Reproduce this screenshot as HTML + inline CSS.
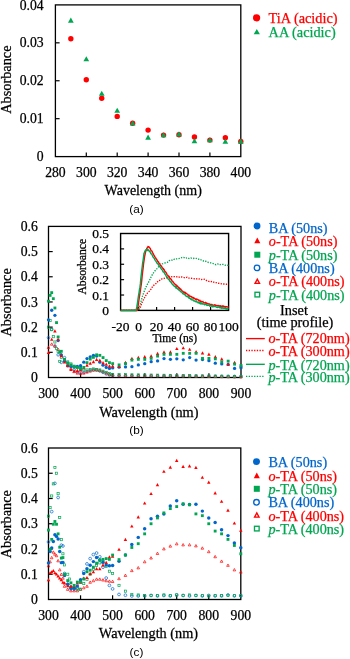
<!DOCTYPE html>
<html><head><meta charset="utf-8"><style>
html,body{margin:0;padding:0;background:#fff;width:350px;height:659px;overflow:hidden;}
svg{display:block;will-change:transform;}

</style></head><body>
<svg width="350" height="659" viewBox="0 0 350 659">
<rect width="350" height="659" fill="#fff"/>
<rect x="55.4" y="4.9" width="185.40" height="151.70" fill="none" stroke="#000" stroke-width="1.3"/>
<line x1="86.30" y1="156.60" x2="86.30" y2="152.40" stroke="#000" stroke-width="1.2"/>
<line x1="117.20" y1="156.60" x2="117.20" y2="152.40" stroke="#000" stroke-width="1.2"/>
<line x1="148.10" y1="156.60" x2="148.10" y2="152.40" stroke="#000" stroke-width="1.2"/>
<line x1="179.00" y1="156.60" x2="179.00" y2="152.40" stroke="#000" stroke-width="1.2"/>
<line x1="209.90" y1="156.60" x2="209.90" y2="152.40" stroke="#000" stroke-width="1.2"/>
<line x1="55.40" y1="118.67" x2="59.60" y2="118.67" stroke="#000" stroke-width="1.2"/>
<line x1="55.40" y1="80.75" x2="59.60" y2="80.75" stroke="#000" stroke-width="1.2"/>
<line x1="55.40" y1="42.83" x2="59.60" y2="42.83" stroke="#000" stroke-width="1.2"/>
<text x="43.60" y="161.20" font-size="13.7" text-anchor="end" fill="#000" stroke="#000" stroke-width="0.25" style="font-family:'Liberation Serif'" >0</text>
<text x="43.60" y="123.27" font-size="13.7" text-anchor="end" fill="#000" stroke="#000" stroke-width="0.25" style="font-family:'Liberation Serif'" >0.01</text>
<text x="43.60" y="85.35" font-size="13.7" text-anchor="end" fill="#000" stroke="#000" stroke-width="0.25" style="font-family:'Liberation Serif'" >0.02</text>
<text x="43.60" y="47.43" font-size="13.7" text-anchor="end" fill="#000" stroke="#000" stroke-width="0.25" style="font-family:'Liberation Serif'" >0.03</text>
<text x="43.60" y="9.50" font-size="13.7" text-anchor="end" fill="#000" stroke="#000" stroke-width="0.25" style="font-family:'Liberation Serif'" >0.04</text>
<text x="55.40" y="176.60" font-size="13.7" text-anchor="middle" fill="#000" stroke="#000" stroke-width="0.25" style="font-family:'Liberation Serif'" >280</text>
<text x="86.30" y="176.60" font-size="13.7" text-anchor="middle" fill="#000" stroke="#000" stroke-width="0.25" style="font-family:'Liberation Serif'" >300</text>
<text x="117.20" y="176.60" font-size="13.7" text-anchor="middle" fill="#000" stroke="#000" stroke-width="0.25" style="font-family:'Liberation Serif'" >320</text>
<text x="148.10" y="176.60" font-size="13.7" text-anchor="middle" fill="#000" stroke="#000" stroke-width="0.25" style="font-family:'Liberation Serif'" >340</text>
<text x="179.00" y="176.60" font-size="13.7" text-anchor="middle" fill="#000" stroke="#000" stroke-width="0.25" style="font-family:'Liberation Serif'" >360</text>
<text x="209.90" y="176.60" font-size="13.7" text-anchor="middle" fill="#000" stroke="#000" stroke-width="0.25" style="font-family:'Liberation Serif'" >380</text>
<text x="240.80" y="176.60" font-size="13.7" text-anchor="middle" fill="#000" stroke="#000" stroke-width="0.25" style="font-family:'Liberation Serif'" >400</text>
<g transform="translate(10.50 79.60) rotate(-90) scale(1 1.08)"><text x="0" y="0" font-size="14.3" text-anchor="middle" fill="#000" stroke="#000" stroke-width="0.25" style="font-family:'Liberation Serif'">Absorbance</text></g>
<g transform="translate(153.20 194.70) rotate(0) scale(1 1.08)"><text x="0" y="0" font-size="14" text-anchor="middle" fill="#000" stroke="#000" stroke-width="0.25" style="font-family:'Liberation Serif'">Wavelength (nm)</text></g>
<text x="136.50" y="212.60" font-size="11.8" text-anchor="middle" fill="#000" style="font-family:'Liberation Sans'" >(a)</text>
<circle cx="70.85" cy="38.70" r="2.70" fill="#ff0000"/>
<circle cx="86.30" cy="79.80" r="2.70" fill="#ff0000"/>
<circle cx="101.75" cy="98.30" r="2.70" fill="#ff0000"/>
<circle cx="117.20" cy="116.40" r="2.70" fill="#ff0000"/>
<circle cx="132.65" cy="123.30" r="2.70" fill="#ff0000"/>
<circle cx="148.10" cy="130.10" r="2.70" fill="#ff0000"/>
<circle cx="163.55" cy="135.10" r="2.70" fill="#ff0000"/>
<circle cx="179.00" cy="134.70" r="2.70" fill="#ff0000"/>
<circle cx="194.45" cy="137.00" r="2.70" fill="#ff0000"/>
<circle cx="209.90" cy="140.10" r="2.70" fill="#ff0000"/>
<circle cx="225.35" cy="137.80" r="2.70" fill="#ff0000"/>
<circle cx="240.80" cy="141.40" r="2.70" fill="#ff0000"/>
<path d="M68.00 22.65L70.85 17.55L73.70 22.65Z" fill="#00a651"/>
<path d="M83.45 61.25L86.30 56.15L89.15 61.25Z" fill="#00a651"/>
<path d="M98.90 95.75L101.75 90.65L104.60 95.75Z" fill="#00a651"/>
<path d="M114.35 112.75L117.20 107.65L120.05 112.75Z" fill="#00a651"/>
<path d="M129.80 125.55L132.65 120.45L135.50 125.55Z" fill="#00a651"/>
<path d="M145.25 139.65L148.10 134.55L150.95 139.65Z" fill="#00a651"/>
<path d="M160.70 137.25L163.55 132.15L166.40 137.25Z" fill="#00a651"/>
<path d="M176.15 136.45L179.00 131.35L181.85 136.45Z" fill="#00a651"/>
<path d="M191.60 143.35L194.45 138.25L197.30 143.35Z" fill="#00a651"/>
<path d="M207.05 142.35L209.90 137.25L212.75 142.35Z" fill="#00a651"/>
<path d="M222.50 143.85L225.35 138.75L228.20 143.85Z" fill="#00a651"/>
<path d="M237.95 143.65L240.80 138.55L243.65 143.65Z" fill="#00a651"/>
<circle cx="256.60" cy="17.80" r="3.60" fill="#ff0000"/>
<text x="268.60" y="23.30" font-size="14.3" text-anchor="start" fill="#ff0000" stroke="#ff0000" stroke-width="0.25" style="font-family:'Liberation Serif'" >TiA (acidic)</text>
<path d="M253.70 34.30L256.80 28.90L259.90 34.30Z" fill="#00a651"/>
<text x="268.60" y="37.20" font-size="14.3" text-anchor="start" fill="#00a651" stroke="#00a651" stroke-width="0.25" style="font-family:'Liberation Serif'" >AA (acidic)</text>
<rect x="48.5" y="226.4" width="192.50" height="151.10" fill="none" stroke="#000" stroke-width="1.3"/>
<line x1="80.58" y1="377.50" x2="80.58" y2="373.30" stroke="#000" stroke-width="1.2"/>
<line x1="112.67" y1="377.50" x2="112.67" y2="373.30" stroke="#000" stroke-width="1.2"/>
<line x1="144.75" y1="377.50" x2="144.75" y2="373.30" stroke="#000" stroke-width="1.2"/>
<line x1="176.83" y1="377.50" x2="176.83" y2="373.30" stroke="#000" stroke-width="1.2"/>
<line x1="208.92" y1="377.50" x2="208.92" y2="373.30" stroke="#000" stroke-width="1.2"/>
<line x1="48.50" y1="352.32" x2="52.70" y2="352.32" stroke="#000" stroke-width="1.2"/>
<line x1="48.50" y1="327.13" x2="52.70" y2="327.13" stroke="#000" stroke-width="1.2"/>
<line x1="48.50" y1="301.95" x2="52.70" y2="301.95" stroke="#000" stroke-width="1.2"/>
<line x1="48.50" y1="276.77" x2="52.70" y2="276.77" stroke="#000" stroke-width="1.2"/>
<line x1="48.50" y1="251.58" x2="52.70" y2="251.58" stroke="#000" stroke-width="1.2"/>
<circle cx="48.50" cy="337.71" r="1.30" fill="none" stroke="#0066cc" stroke-width="0.7"/>
<circle cx="51.71" cy="329.40" r="1.30" fill="none" stroke="#0066cc" stroke-width="0.7"/>
<circle cx="54.92" cy="346.02" r="1.30" fill="none" stroke="#0066cc" stroke-width="0.7"/>
<circle cx="58.12" cy="354.83" r="1.30" fill="none" stroke="#0066cc" stroke-width="0.7"/>
<circle cx="61.33" cy="362.39" r="1.30" fill="none" stroke="#0066cc" stroke-width="0.7"/>
<circle cx="64.54" cy="357.61" r="1.30" fill="none" stroke="#0066cc" stroke-width="0.7"/>
<circle cx="67.75" cy="362.89" r="1.30" fill="none" stroke="#0066cc" stroke-width="0.7"/>
<circle cx="70.96" cy="366.42" r="1.30" fill="none" stroke="#0066cc" stroke-width="0.7"/>
<circle cx="74.17" cy="369.94" r="1.30" fill="none" stroke="#0066cc" stroke-width="0.7"/>
<circle cx="77.38" cy="371.96" r="1.30" fill="none" stroke="#0066cc" stroke-width="0.7"/>
<circle cx="80.58" cy="372.46" r="1.30" fill="none" stroke="#0066cc" stroke-width="0.7"/>
<circle cx="83.79" cy="372.46" r="1.30" fill="none" stroke="#0066cc" stroke-width="0.7"/>
<circle cx="87.00" cy="371.46" r="1.30" fill="none" stroke="#0066cc" stroke-width="0.7"/>
<circle cx="90.21" cy="370.45" r="1.30" fill="none" stroke="#0066cc" stroke-width="0.7"/>
<circle cx="93.42" cy="369.94" r="1.30" fill="none" stroke="#0066cc" stroke-width="0.7"/>
<circle cx="96.62" cy="369.94" r="1.30" fill="none" stroke="#0066cc" stroke-width="0.7"/>
<circle cx="99.83" cy="370.95" r="1.30" fill="none" stroke="#0066cc" stroke-width="0.7"/>
<circle cx="103.04" cy="372.46" r="1.30" fill="none" stroke="#0066cc" stroke-width="0.7"/>
<circle cx="106.25" cy="373.97" r="1.30" fill="none" stroke="#0066cc" stroke-width="0.7"/>
<circle cx="109.46" cy="374.98" r="1.30" fill="none" stroke="#0066cc" stroke-width="0.7"/>
<circle cx="112.67" cy="375.49" r="1.30" fill="none" stroke="#0066cc" stroke-width="0.7"/>
<circle cx="119.08" cy="375.54" r="1.30" fill="none" stroke="#0066cc" stroke-width="0.7"/>
<circle cx="125.50" cy="375.59" r="1.30" fill="none" stroke="#0066cc" stroke-width="0.7"/>
<circle cx="131.92" cy="375.64" r="1.30" fill="none" stroke="#0066cc" stroke-width="0.7"/>
<circle cx="138.33" cy="375.69" r="1.30" fill="none" stroke="#0066cc" stroke-width="0.7"/>
<circle cx="144.75" cy="375.74" r="1.30" fill="none" stroke="#0066cc" stroke-width="0.7"/>
<circle cx="151.17" cy="375.79" r="1.30" fill="none" stroke="#0066cc" stroke-width="0.7"/>
<circle cx="157.58" cy="375.84" r="1.30" fill="none" stroke="#0066cc" stroke-width="0.7"/>
<circle cx="164.00" cy="375.89" r="1.30" fill="none" stroke="#0066cc" stroke-width="0.7"/>
<circle cx="170.42" cy="375.94" r="1.30" fill="none" stroke="#0066cc" stroke-width="0.7"/>
<circle cx="176.83" cy="375.99" r="1.30" fill="none" stroke="#0066cc" stroke-width="0.7"/>
<circle cx="183.25" cy="376.04" r="1.30" fill="none" stroke="#0066cc" stroke-width="0.7"/>
<circle cx="189.67" cy="376.09" r="1.30" fill="none" stroke="#0066cc" stroke-width="0.7"/>
<circle cx="196.08" cy="376.14" r="1.30" fill="none" stroke="#0066cc" stroke-width="0.7"/>
<circle cx="202.50" cy="376.19" r="1.30" fill="none" stroke="#0066cc" stroke-width="0.7"/>
<circle cx="208.92" cy="376.24" r="1.30" fill="none" stroke="#0066cc" stroke-width="0.7"/>
<circle cx="215.33" cy="376.29" r="1.30" fill="none" stroke="#0066cc" stroke-width="0.7"/>
<circle cx="221.75" cy="376.34" r="1.30" fill="none" stroke="#0066cc" stroke-width="0.7"/>
<circle cx="228.17" cy="376.39" r="1.30" fill="none" stroke="#0066cc" stroke-width="0.7"/>
<circle cx="234.58" cy="376.44" r="1.30" fill="none" stroke="#0066cc" stroke-width="0.7"/>
<circle cx="241.00" cy="376.49" r="1.30" fill="none" stroke="#0066cc" stroke-width="0.7"/>
<path d="M47.20 348.47L48.50 346.09L49.80 348.47Z" fill="none" stroke="#ff0000" stroke-width="0.7" stroke-linejoin="miter"/>
<path d="M50.40 345.20L51.71 342.82L53.01 345.20Z" fill="none" stroke="#ff0000" stroke-width="0.7" stroke-linejoin="miter"/>
<path d="M53.61 347.21L54.92 344.83L56.22 347.21Z" fill="none" stroke="#ff0000" stroke-width="0.7" stroke-linejoin="miter"/>
<path d="M56.82 350.48L58.12 348.10L59.43 350.48Z" fill="none" stroke="#ff0000" stroke-width="0.7" stroke-linejoin="miter"/>
<path d="M60.03 356.02L61.33 353.64L62.64 356.02Z" fill="none" stroke="#ff0000" stroke-width="0.7" stroke-linejoin="miter"/>
<path d="M63.24 361.06L64.54 358.68L65.85 361.06Z" fill="none" stroke="#ff0000" stroke-width="0.7" stroke-linejoin="miter"/>
<path d="M66.44 366.10L67.75 363.72L69.06 366.10Z" fill="none" stroke="#ff0000" stroke-width="0.7" stroke-linejoin="miter"/>
<path d="M69.65 369.62L70.96 367.24L72.26 369.62Z" fill="none" stroke="#ff0000" stroke-width="0.7" stroke-linejoin="miter"/>
<path d="M72.86 372.65L74.17 370.27L75.47 372.65Z" fill="none" stroke="#ff0000" stroke-width="0.7" stroke-linejoin="miter"/>
<path d="M76.07 374.16L77.38 371.78L78.68 374.16Z" fill="none" stroke="#ff0000" stroke-width="0.7" stroke-linejoin="miter"/>
<path d="M79.28 374.66L80.58 372.28L81.89 374.66Z" fill="none" stroke="#ff0000" stroke-width="0.7" stroke-linejoin="miter"/>
<path d="M82.49 374.16L83.79 371.78L85.10 374.16Z" fill="none" stroke="#ff0000" stroke-width="0.7" stroke-linejoin="miter"/>
<path d="M85.69 373.15L87.00 370.77L88.31 373.15Z" fill="none" stroke="#ff0000" stroke-width="0.7" stroke-linejoin="miter"/>
<path d="M88.90 372.14L90.21 369.76L91.51 372.14Z" fill="none" stroke="#ff0000" stroke-width="0.7" stroke-linejoin="miter"/>
<path d="M92.11 371.13L93.42 368.75L94.72 371.13Z" fill="none" stroke="#ff0000" stroke-width="0.7" stroke-linejoin="miter"/>
<path d="M95.32 371.13L96.62 368.75L97.93 371.13Z" fill="none" stroke="#ff0000" stroke-width="0.7" stroke-linejoin="miter"/>
<path d="M98.53 371.64L99.83 369.26L101.14 371.64Z" fill="none" stroke="#ff0000" stroke-width="0.7" stroke-linejoin="miter"/>
<path d="M101.74 372.65L103.04 370.27L104.35 372.65Z" fill="none" stroke="#ff0000" stroke-width="0.7" stroke-linejoin="miter"/>
<path d="M104.94 374.16L106.25 371.78L107.56 374.16Z" fill="none" stroke="#ff0000" stroke-width="0.7" stroke-linejoin="miter"/>
<path d="M108.15 375.67L109.46 373.29L110.76 375.67Z" fill="none" stroke="#ff0000" stroke-width="0.7" stroke-linejoin="miter"/>
<path d="M111.36 376.17L112.67 373.79L113.97 376.17Z" fill="none" stroke="#ff0000" stroke-width="0.7" stroke-linejoin="miter"/>
<path d="M117.78 376.26L119.08 373.88L120.39 376.26Z" fill="none" stroke="#ff0000" stroke-width="0.7" stroke-linejoin="miter"/>
<path d="M124.19 376.35L125.50 373.97L126.81 376.35Z" fill="none" stroke="#ff0000" stroke-width="0.7" stroke-linejoin="miter"/>
<path d="M130.61 376.44L131.92 374.06L133.22 376.44Z" fill="none" stroke="#ff0000" stroke-width="0.7" stroke-linejoin="miter"/>
<path d="M137.03 376.52L138.33 374.14L139.64 376.52Z" fill="none" stroke="#ff0000" stroke-width="0.7" stroke-linejoin="miter"/>
<path d="M143.44 376.61L144.75 374.23L146.06 376.61Z" fill="none" stroke="#ff0000" stroke-width="0.7" stroke-linejoin="miter"/>
<path d="M149.86 376.70L151.17 374.32L152.47 376.70Z" fill="none" stroke="#ff0000" stroke-width="0.7" stroke-linejoin="miter"/>
<path d="M156.28 376.79L157.58 374.41L158.89 376.79Z" fill="none" stroke="#ff0000" stroke-width="0.7" stroke-linejoin="miter"/>
<path d="M162.69 376.88L164.00 374.50L165.31 376.88Z" fill="none" stroke="#ff0000" stroke-width="0.7" stroke-linejoin="miter"/>
<path d="M169.11 376.96L170.42 374.58L171.72 376.96Z" fill="none" stroke="#ff0000" stroke-width="0.7" stroke-linejoin="miter"/>
<path d="M175.53 377.05L176.83 374.67L178.14 377.05Z" fill="none" stroke="#ff0000" stroke-width="0.7" stroke-linejoin="miter"/>
<path d="M181.94 377.14L183.25 374.76L184.56 377.14Z" fill="none" stroke="#ff0000" stroke-width="0.7" stroke-linejoin="miter"/>
<path d="M188.36 377.23L189.67 374.85L190.97 377.23Z" fill="none" stroke="#ff0000" stroke-width="0.7" stroke-linejoin="miter"/>
<path d="M194.78 377.32L196.08 374.94L197.39 377.32Z" fill="none" stroke="#ff0000" stroke-width="0.7" stroke-linejoin="miter"/>
<path d="M201.19 377.41L202.50 375.03L203.81 377.41Z" fill="none" stroke="#ff0000" stroke-width="0.7" stroke-linejoin="miter"/>
<path d="M207.61 377.49L208.92 375.11L210.22 377.49Z" fill="none" stroke="#ff0000" stroke-width="0.7" stroke-linejoin="miter"/>
<path d="M214.03 377.58L215.33 375.20L216.64 377.58Z" fill="none" stroke="#ff0000" stroke-width="0.7" stroke-linejoin="miter"/>
<path d="M220.44 377.67L221.75 375.29L223.06 377.67Z" fill="none" stroke="#ff0000" stroke-width="0.7" stroke-linejoin="miter"/>
<path d="M226.86 377.76L228.17 375.38L229.47 377.76Z" fill="none" stroke="#ff0000" stroke-width="0.7" stroke-linejoin="miter"/>
<path d="M233.28 377.85L234.58 375.47L235.89 377.85Z" fill="none" stroke="#ff0000" stroke-width="0.7" stroke-linejoin="miter"/>
<path d="M239.69 377.93L241.00 375.55L242.31 377.93Z" fill="none" stroke="#ff0000" stroke-width="0.7" stroke-linejoin="miter"/>
<rect x="47.42" y="326.06" width="2.15" height="2.15" fill="none" stroke="#00a651" stroke-width="0.7"/>
<rect x="49.03" y="319.51" width="2.15" height="2.15" fill="none" stroke="#00a651" stroke-width="0.7"/>
<rect x="50.63" y="328.58" width="2.15" height="2.15" fill="none" stroke="#00a651" stroke-width="0.7"/>
<rect x="52.24" y="335.63" width="2.15" height="2.15" fill="none" stroke="#00a651" stroke-width="0.7"/>
<rect x="53.84" y="340.92" width="2.15" height="2.15" fill="none" stroke="#00a651" stroke-width="0.7"/>
<rect x="55.45" y="347.46" width="2.15" height="2.15" fill="none" stroke="#00a651" stroke-width="0.7"/>
<rect x="57.05" y="350.23" width="2.15" height="2.15" fill="none" stroke="#00a651" stroke-width="0.7"/>
<rect x="58.65" y="360.31" width="2.15" height="2.15" fill="none" stroke="#00a651" stroke-width="0.7"/>
<rect x="60.26" y="356.28" width="2.15" height="2.15" fill="none" stroke="#00a651" stroke-width="0.7"/>
<rect x="63.47" y="358.80" width="2.15" height="2.15" fill="none" stroke="#00a651" stroke-width="0.7"/>
<rect x="66.67" y="360.81" width="2.15" height="2.15" fill="none" stroke="#00a651" stroke-width="0.7"/>
<rect x="69.88" y="362.83" width="2.15" height="2.15" fill="none" stroke="#00a651" stroke-width="0.7"/>
<rect x="73.09" y="365.09" width="2.15" height="2.15" fill="none" stroke="#00a651" stroke-width="0.7"/>
<rect x="76.30" y="366.35" width="2.15" height="2.15" fill="none" stroke="#00a651" stroke-width="0.7"/>
<rect x="79.51" y="367.86" width="2.15" height="2.15" fill="none" stroke="#00a651" stroke-width="0.7"/>
<rect x="82.72" y="368.87" width="2.15" height="2.15" fill="none" stroke="#00a651" stroke-width="0.7"/>
<rect x="85.92" y="368.87" width="2.15" height="2.15" fill="none" stroke="#00a651" stroke-width="0.7"/>
<rect x="89.13" y="368.37" width="2.15" height="2.15" fill="none" stroke="#00a651" stroke-width="0.7"/>
<rect x="92.34" y="367.86" width="2.15" height="2.15" fill="none" stroke="#00a651" stroke-width="0.7"/>
<rect x="95.55" y="368.37" width="2.15" height="2.15" fill="none" stroke="#00a651" stroke-width="0.7"/>
<rect x="98.76" y="368.87" width="2.15" height="2.15" fill="none" stroke="#00a651" stroke-width="0.7"/>
<rect x="101.97" y="370.13" width="2.15" height="2.15" fill="none" stroke="#00a651" stroke-width="0.7"/>
<rect x="105.17" y="371.39" width="2.15" height="2.15" fill="none" stroke="#00a651" stroke-width="0.7"/>
<rect x="108.38" y="372.65" width="2.15" height="2.15" fill="none" stroke="#00a651" stroke-width="0.7"/>
<rect x="111.59" y="373.40" width="2.15" height="2.15" fill="none" stroke="#00a651" stroke-width="0.7"/>
<rect x="118.01" y="373.50" width="2.15" height="2.15" fill="none" stroke="#00a651" stroke-width="0.7"/>
<rect x="124.42" y="373.60" width="2.15" height="2.15" fill="none" stroke="#00a651" stroke-width="0.7"/>
<rect x="130.84" y="373.71" width="2.15" height="2.15" fill="none" stroke="#00a651" stroke-width="0.7"/>
<rect x="137.26" y="373.81" width="2.15" height="2.15" fill="none" stroke="#00a651" stroke-width="0.7"/>
<rect x="143.68" y="373.91" width="2.15" height="2.15" fill="none" stroke="#00a651" stroke-width="0.7"/>
<rect x="150.09" y="374.01" width="2.15" height="2.15" fill="none" stroke="#00a651" stroke-width="0.7"/>
<rect x="156.51" y="374.11" width="2.15" height="2.15" fill="none" stroke="#00a651" stroke-width="0.7"/>
<rect x="162.93" y="374.21" width="2.15" height="2.15" fill="none" stroke="#00a651" stroke-width="0.7"/>
<rect x="169.34" y="374.31" width="2.15" height="2.15" fill="none" stroke="#00a651" stroke-width="0.7"/>
<rect x="175.76" y="374.41" width="2.15" height="2.15" fill="none" stroke="#00a651" stroke-width="0.7"/>
<rect x="182.18" y="374.51" width="2.15" height="2.15" fill="none" stroke="#00a651" stroke-width="0.7"/>
<rect x="188.59" y="374.61" width="2.15" height="2.15" fill="none" stroke="#00a651" stroke-width="0.7"/>
<rect x="195.01" y="374.71" width="2.15" height="2.15" fill="none" stroke="#00a651" stroke-width="0.7"/>
<rect x="201.43" y="374.81" width="2.15" height="2.15" fill="none" stroke="#00a651" stroke-width="0.7"/>
<rect x="207.84" y="374.91" width="2.15" height="2.15" fill="none" stroke="#00a651" stroke-width="0.7"/>
<rect x="214.26" y="375.01" width="2.15" height="2.15" fill="none" stroke="#00a651" stroke-width="0.7"/>
<rect x="220.68" y="375.12" width="2.15" height="2.15" fill="none" stroke="#00a651" stroke-width="0.7"/>
<rect x="227.09" y="375.22" width="2.15" height="2.15" fill="none" stroke="#00a651" stroke-width="0.7"/>
<rect x="233.51" y="375.32" width="2.15" height="2.15" fill="none" stroke="#00a651" stroke-width="0.7"/>
<rect x="239.93" y="375.42" width="2.15" height="2.15" fill="none" stroke="#00a651" stroke-width="0.7"/>
<circle cx="48.50" cy="319.83" r="1.65" fill="#0066cc"/>
<circle cx="51.71" cy="310.26" r="1.65" fill="#0066cc"/>
<circle cx="54.92" cy="315.30" r="1.65" fill="#0066cc"/>
<circle cx="58.12" cy="340.48" r="1.65" fill="#0066cc"/>
<circle cx="61.33" cy="354.83" r="1.65" fill="#0066cc"/>
<circle cx="64.54" cy="361.13" r="1.65" fill="#0066cc"/>
<circle cx="67.75" cy="365.92" r="1.65" fill="#0066cc"/>
<circle cx="70.96" cy="366.42" r="1.65" fill="#0066cc"/>
<circle cx="74.17" cy="366.92" r="1.65" fill="#0066cc"/>
<circle cx="77.38" cy="366.42" r="1.65" fill="#0066cc"/>
<circle cx="80.58" cy="365.66" r="1.65" fill="#0066cc"/>
<circle cx="83.79" cy="362.14" r="1.65" fill="#0066cc"/>
<circle cx="87.00" cy="358.61" r="1.65" fill="#0066cc"/>
<circle cx="90.21" cy="356.85" r="1.65" fill="#0066cc"/>
<circle cx="93.42" cy="355.34" r="1.65" fill="#0066cc"/>
<circle cx="96.62" cy="356.09" r="1.65" fill="#0066cc"/>
<circle cx="99.83" cy="362.14" r="1.65" fill="#0066cc"/>
<circle cx="103.04" cy="365.16" r="1.65" fill="#0066cc"/>
<circle cx="106.25" cy="367.43" r="1.65" fill="#0066cc"/>
<circle cx="109.46" cy="368.43" r="1.65" fill="#0066cc"/>
<circle cx="112.67" cy="367.93" r="1.65" fill="#0066cc"/>
<circle cx="119.08" cy="367.17" r="1.65" fill="#0066cc"/>
<circle cx="125.50" cy="366.92" r="1.65" fill="#0066cc"/>
<circle cx="131.92" cy="366.67" r="1.65" fill="#0066cc"/>
<circle cx="138.33" cy="364.91" r="1.65" fill="#0066cc"/>
<circle cx="144.75" cy="363.65" r="1.65" fill="#0066cc"/>
<circle cx="151.17" cy="361.63" r="1.65" fill="#0066cc"/>
<circle cx="157.58" cy="360.88" r="1.65" fill="#0066cc"/>
<circle cx="164.00" cy="358.61" r="1.65" fill="#0066cc"/>
<circle cx="170.42" cy="359.37" r="1.65" fill="#0066cc"/>
<circle cx="176.83" cy="358.86" r="1.65" fill="#0066cc"/>
<circle cx="183.25" cy="359.87" r="1.65" fill="#0066cc"/>
<circle cx="189.67" cy="357.61" r="1.65" fill="#0066cc"/>
<circle cx="196.08" cy="360.12" r="1.65" fill="#0066cc"/>
<circle cx="202.50" cy="359.62" r="1.65" fill="#0066cc"/>
<circle cx="208.92" cy="360.63" r="1.65" fill="#0066cc"/>
<circle cx="215.33" cy="363.15" r="1.65" fill="#0066cc"/>
<circle cx="221.75" cy="363.90" r="1.65" fill="#0066cc"/>
<circle cx="228.17" cy="364.40" r="1.65" fill="#0066cc"/>
<circle cx="234.58" cy="368.43" r="1.65" fill="#0066cc"/>
<circle cx="241.00" cy="367.68" r="1.65" fill="#0066cc"/>
<path d="M46.77 353.89L48.50 350.74L50.23 353.89Z" fill="#ff0000"/>
<path d="M49.98 340.80L51.71 337.65L53.43 340.80Z" fill="#ff0000"/>
<path d="M53.19 332.49L54.92 329.34L56.64 332.49Z" fill="#ff0000"/>
<path d="M56.40 340.80L58.12 337.65L59.85 340.80Z" fill="#ff0000"/>
<path d="M59.61 357.17L61.33 354.02L63.06 357.17Z" fill="#ff0000"/>
<path d="M62.82 363.46L64.54 360.31L66.27 363.46Z" fill="#ff0000"/>
<path d="M66.03 366.99L67.75 363.84L69.47 366.99Z" fill="#ff0000"/>
<path d="M69.23 371.02L70.96 367.87L72.68 371.02Z" fill="#ff0000"/>
<path d="M72.44 372.53L74.17 369.38L75.89 372.53Z" fill="#ff0000"/>
<path d="M75.65 372.02L77.38 368.87L79.10 372.02Z" fill="#ff0000"/>
<path d="M78.86 371.27L80.58 368.12L82.31 371.27Z" fill="#ff0000"/>
<path d="M82.07 369.25L83.79 366.10L85.52 369.25Z" fill="#ff0000"/>
<path d="M85.28 366.74L87.00 363.59L88.72 366.74Z" fill="#ff0000"/>
<path d="M88.48 364.72L90.21 361.57L91.93 364.72Z" fill="#ff0000"/>
<path d="M91.69 363.21L93.42 360.06L95.14 363.21Z" fill="#ff0000"/>
<path d="M94.90 360.94L96.62 357.79L98.35 360.94Z" fill="#ff0000"/>
<path d="M98.11 361.70L99.83 358.55L101.56 361.70Z" fill="#ff0000"/>
<path d="M101.32 364.22L103.04 361.07L104.77 364.22Z" fill="#ff0000"/>
<path d="M104.53 365.73L106.25 362.58L107.97 365.73Z" fill="#ff0000"/>
<path d="M107.73 367.49L109.46 364.34L111.18 367.49Z" fill="#ff0000"/>
<path d="M110.94 367.49L112.67 364.34L114.39 367.49Z" fill="#ff0000"/>
<path d="M117.36 367.74L119.08 364.59L120.81 367.74Z" fill="#ff0000"/>
<path d="M123.78 363.96L125.50 360.81L127.22 363.96Z" fill="#ff0000"/>
<path d="M130.19 359.94L131.92 356.79L133.64 359.94Z" fill="#ff0000"/>
<path d="M136.61 358.93L138.33 355.78L140.06 358.93Z" fill="#ff0000"/>
<path d="M143.03 358.17L144.75 355.02L146.47 358.17Z" fill="#ff0000"/>
<path d="M149.44 357.42L151.17 354.27L152.89 357.42Z" fill="#ff0000"/>
<path d="M155.86 354.90L157.58 351.75L159.31 354.90Z" fill="#ff0000"/>
<path d="M162.28 353.39L164.00 350.24L165.72 353.39Z" fill="#ff0000"/>
<path d="M168.69 353.39L170.42 350.24L172.14 353.39Z" fill="#ff0000"/>
<path d="M175.11 350.11L176.83 346.96L178.56 350.11Z" fill="#ff0000"/>
<path d="M181.53 349.36L183.25 346.21L184.97 349.36Z" fill="#ff0000"/>
<path d="M187.94 350.87L189.67 347.72L191.39 350.87Z" fill="#ff0000"/>
<path d="M194.36 353.14L196.08 349.99L197.81 353.14Z" fill="#ff0000"/>
<path d="M200.78 354.40L202.50 351.25L204.22 354.40Z" fill="#ff0000"/>
<path d="M207.19 355.65L208.92 352.50L210.64 355.65Z" fill="#ff0000"/>
<path d="M213.61 358.17L215.33 355.02L217.06 358.17Z" fill="#ff0000"/>
<path d="M220.03 360.44L221.75 357.29L223.47 360.44Z" fill="#ff0000"/>
<path d="M226.44 365.73L228.17 362.58L229.89 365.73Z" fill="#ff0000"/>
<path d="M232.86 363.96L234.58 360.81L236.31 363.96Z" fill="#ff0000"/>
<path d="M239.28 366.48L241.00 363.33L242.72 366.48Z" fill="#ff0000"/>
<rect x="47.08" y="299.77" width="2.85" height="2.85" fill="#00a651"/>
<rect x="48.68" y="293.98" width="2.85" height="2.85" fill="#00a651"/>
<rect x="50.28" y="291.21" width="2.85" height="2.85" fill="#00a651"/>
<rect x="51.89" y="297.25" width="2.85" height="2.85" fill="#00a651"/>
<rect x="53.49" y="306.57" width="2.85" height="2.85" fill="#00a651"/>
<rect x="55.10" y="321.18" width="2.85" height="2.85" fill="#00a651"/>
<rect x="56.70" y="335.53" width="2.85" height="2.85" fill="#00a651"/>
<rect x="58.30" y="350.89" width="2.85" height="2.85" fill="#00a651"/>
<rect x="59.91" y="349.88" width="2.85" height="2.85" fill="#00a651"/>
<rect x="63.12" y="357.94" width="2.85" height="2.85" fill="#00a651"/>
<rect x="66.33" y="361.97" width="2.85" height="2.85" fill="#00a651"/>
<rect x="69.53" y="363.48" width="2.85" height="2.85" fill="#00a651"/>
<rect x="72.74" y="365.50" width="2.85" height="2.85" fill="#00a651"/>
<rect x="75.95" y="366.00" width="2.85" height="2.85" fill="#00a651"/>
<rect x="79.16" y="367.01" width="2.85" height="2.85" fill="#00a651"/>
<rect x="82.37" y="366.00" width="2.85" height="2.85" fill="#00a651"/>
<rect x="85.58" y="361.22" width="2.85" height="2.85" fill="#00a651"/>
<rect x="88.78" y="357.69" width="2.85" height="2.85" fill="#00a651"/>
<rect x="91.99" y="355.93" width="2.85" height="2.85" fill="#00a651"/>
<rect x="95.20" y="353.41" width="2.85" height="2.85" fill="#00a651"/>
<rect x="98.41" y="353.91" width="2.85" height="2.85" fill="#00a651"/>
<rect x="101.62" y="356.18" width="2.85" height="2.85" fill="#00a651"/>
<rect x="104.83" y="359.20" width="2.85" height="2.85" fill="#00a651"/>
<rect x="108.03" y="361.22" width="2.85" height="2.85" fill="#00a651"/>
<rect x="111.24" y="362.22" width="2.85" height="2.85" fill="#00a651"/>
<rect x="117.66" y="363.48" width="2.85" height="2.85" fill="#00a651"/>
<rect x="124.08" y="362.22" width="2.85" height="2.85" fill="#00a651"/>
<rect x="130.49" y="358.70" width="2.85" height="2.85" fill="#00a651"/>
<rect x="136.91" y="357.94" width="2.85" height="2.85" fill="#00a651"/>
<rect x="143.32" y="357.94" width="2.85" height="2.85" fill="#00a651"/>
<rect x="149.74" y="356.94" width="2.85" height="2.85" fill="#00a651"/>
<rect x="156.16" y="354.67" width="2.85" height="2.85" fill="#00a651"/>
<rect x="162.57" y="352.91" width="2.85" height="2.85" fill="#00a651"/>
<rect x="168.99" y="352.91" width="2.85" height="2.85" fill="#00a651"/>
<rect x="175.41" y="352.91" width="2.85" height="2.85" fill="#00a651"/>
<rect x="181.82" y="351.90" width="2.85" height="2.85" fill="#00a651"/>
<rect x="188.24" y="351.90" width="2.85" height="2.85" fill="#00a651"/>
<rect x="194.66" y="351.90" width="2.85" height="2.85" fill="#00a651"/>
<rect x="201.07" y="356.94" width="2.85" height="2.85" fill="#00a651"/>
<rect x="207.49" y="356.94" width="2.85" height="2.85" fill="#00a651"/>
<rect x="213.91" y="357.44" width="2.85" height="2.85" fill="#00a651"/>
<rect x="220.32" y="360.46" width="2.85" height="2.85" fill="#00a651"/>
<rect x="226.74" y="359.71" width="2.85" height="2.85" fill="#00a651"/>
<rect x="233.16" y="362.73" width="2.85" height="2.85" fill="#00a651"/>
<rect x="239.57" y="363.99" width="2.85" height="2.85" fill="#00a651"/>
<text x="37.80" y="382.10" font-size="13.7" text-anchor="end" fill="#000" stroke="#000" stroke-width="0.25" style="font-family:'Liberation Serif'" >0</text>
<text x="37.80" y="356.92" font-size="13.7" text-anchor="end" fill="#000" stroke="#000" stroke-width="0.25" style="font-family:'Liberation Serif'" >0.1</text>
<text x="37.80" y="331.73" font-size="13.7" text-anchor="end" fill="#000" stroke="#000" stroke-width="0.25" style="font-family:'Liberation Serif'" >0.2</text>
<text x="37.80" y="306.55" font-size="13.7" text-anchor="end" fill="#000" stroke="#000" stroke-width="0.25" style="font-family:'Liberation Serif'" >0.3</text>
<text x="37.80" y="281.37" font-size="13.7" text-anchor="end" fill="#000" stroke="#000" stroke-width="0.25" style="font-family:'Liberation Serif'" >0.4</text>
<text x="37.80" y="256.18" font-size="13.7" text-anchor="end" fill="#000" stroke="#000" stroke-width="0.25" style="font-family:'Liberation Serif'" >0.5</text>
<text x="37.80" y="231.00" font-size="13.7" text-anchor="end" fill="#000" stroke="#000" stroke-width="0.25" style="font-family:'Liberation Serif'" >0.6</text>
<text x="48.50" y="398.30" font-size="13.7" text-anchor="middle" fill="#000" stroke="#000" stroke-width="0.25" style="font-family:'Liberation Serif'" >300</text>
<text x="80.58" y="398.30" font-size="13.7" text-anchor="middle" fill="#000" stroke="#000" stroke-width="0.25" style="font-family:'Liberation Serif'" >400</text>
<text x="112.67" y="398.30" font-size="13.7" text-anchor="middle" fill="#000" stroke="#000" stroke-width="0.25" style="font-family:'Liberation Serif'" >500</text>
<text x="144.75" y="398.30" font-size="13.7" text-anchor="middle" fill="#000" stroke="#000" stroke-width="0.25" style="font-family:'Liberation Serif'" >600</text>
<text x="176.83" y="398.30" font-size="13.7" text-anchor="middle" fill="#000" stroke="#000" stroke-width="0.25" style="font-family:'Liberation Serif'" >700</text>
<text x="208.92" y="398.30" font-size="13.7" text-anchor="middle" fill="#000" stroke="#000" stroke-width="0.25" style="font-family:'Liberation Serif'" >800</text>
<text x="241.00" y="398.30" font-size="13.7" text-anchor="middle" fill="#000" stroke="#000" stroke-width="0.25" style="font-family:'Liberation Serif'" >900</text>
<g transform="translate(10.50 302.40) rotate(-90) scale(1 1.08)"><text x="0" y="0" font-size="14.3" text-anchor="middle" fill="#000" stroke="#000" stroke-width="0.25" style="font-family:'Liberation Serif'">Absorbance</text></g>
<g transform="translate(148.80 417.30) rotate(0) scale(1 1.08)"><text x="0" y="0" font-size="14.3" text-anchor="middle" fill="#000" stroke="#000" stroke-width="0.25" style="font-family:'Liberation Serif'">Wavelength (nm)</text></g>
<text x="136.50" y="433.80" font-size="11.8" text-anchor="middle" fill="#000" style="font-family:'Liberation Sans'" >(b)</text>
<rect x="120.6" y="233.5" width="108.00" height="76.90" fill="#fff" stroke="#000" stroke-width="1.4"/>
<line x1="138.60" y1="310.40" x2="138.60" y2="306.90" stroke="#000" stroke-width="1.2"/>
<line x1="156.60" y1="310.40" x2="156.60" y2="306.90" stroke="#000" stroke-width="1.2"/>
<line x1="174.60" y1="310.40" x2="174.60" y2="306.90" stroke="#000" stroke-width="1.2"/>
<line x1="192.60" y1="310.40" x2="192.60" y2="306.90" stroke="#000" stroke-width="1.2"/>
<line x1="210.60" y1="310.40" x2="210.60" y2="306.90" stroke="#000" stroke-width="1.2"/>
<line x1="120.60" y1="295.02" x2="124.10" y2="295.02" stroke="#000" stroke-width="1.2"/>
<line x1="120.60" y1="279.64" x2="124.10" y2="279.64" stroke="#000" stroke-width="1.2"/>
<line x1="120.60" y1="264.26" x2="124.10" y2="264.26" stroke="#000" stroke-width="1.2"/>
<line x1="120.60" y1="248.88" x2="124.10" y2="248.88" stroke="#000" stroke-width="1.2"/>
<text x="109.00" y="315.00" font-size="13.5" text-anchor="end" fill="#000" stroke="#000" stroke-width="0.25" style="font-family:'Liberation Serif'" >0</text>
<text x="109.00" y="299.62" font-size="13.5" text-anchor="end" fill="#000" stroke="#000" stroke-width="0.25" style="font-family:'Liberation Serif'" >0.1</text>
<text x="109.00" y="284.24" font-size="13.5" text-anchor="end" fill="#000" stroke="#000" stroke-width="0.25" style="font-family:'Liberation Serif'" >0.2</text>
<text x="109.00" y="268.86" font-size="13.5" text-anchor="end" fill="#000" stroke="#000" stroke-width="0.25" style="font-family:'Liberation Serif'" >0.3</text>
<text x="109.00" y="253.48" font-size="13.5" text-anchor="end" fill="#000" stroke="#000" stroke-width="0.25" style="font-family:'Liberation Serif'" >0.4</text>
<text x="109.00" y="238.10" font-size="13.5" text-anchor="end" fill="#000" stroke="#000" stroke-width="0.25" style="font-family:'Liberation Serif'" >0.5</text>
<text x="120.60" y="330.80" font-size="13.5" text-anchor="middle" fill="#000" stroke="#000" stroke-width="0.25" style="font-family:'Liberation Serif'" >-20</text>
<text x="138.60" y="330.80" font-size="13.5" text-anchor="middle" fill="#000" stroke="#000" stroke-width="0.25" style="font-family:'Liberation Serif'" >0</text>
<text x="156.60" y="330.80" font-size="13.5" text-anchor="middle" fill="#000" stroke="#000" stroke-width="0.25" style="font-family:'Liberation Serif'" >20</text>
<text x="174.60" y="330.80" font-size="13.5" text-anchor="middle" fill="#000" stroke="#000" stroke-width="0.25" style="font-family:'Liberation Serif'" >40</text>
<text x="192.60" y="330.80" font-size="13.5" text-anchor="middle" fill="#000" stroke="#000" stroke-width="0.25" style="font-family:'Liberation Serif'" >60</text>
<text x="210.60" y="330.80" font-size="13.5" text-anchor="middle" fill="#000" stroke="#000" stroke-width="0.25" style="font-family:'Liberation Serif'" >80</text>
<text x="228.60" y="330.80" font-size="13.5" text-anchor="middle" fill="#000" stroke="#000" stroke-width="0.25" style="font-family:'Liberation Serif'" >100</text>
<text x="174.80" y="341.60" font-size="11.5" text-anchor="middle" fill="#000" stroke="#000" stroke-width="0.25" style="font-family:'Liberation Serif'" >Time (ns)</text>
<g transform="translate(85.60 266.70) rotate(-90) scale(1 1.08)"><text x="0" y="0" font-size="11.7" text-anchor="middle" fill="#000" stroke="#000" stroke-width="0.25" style="font-family:'Liberation Serif'">Absorbance</text></g>
<path d="M120.60,310.40 L122.40,310.40 L124.20,310.40 L126.00,310.40 L127.80,310.40 L129.60,310.40 L131.40,310.40 L133.20,310.40 L135.00,310.40 L136.80,310.40 L138.60,310.06 L140.40,307.15 L142.20,302.22 L144.00,298.70 L145.80,295.49 L147.60,292.84 L149.40,291.13 L151.20,288.96 L153.00,285.85 L154.80,284.66 L156.60,283.04 L158.40,280.73 L160.20,280.22 L162.00,278.83 L163.80,278.48 L165.60,277.68 L167.40,277.85 L169.20,276.99 L171.00,276.56 L172.80,276.91 L174.60,276.60 L176.40,276.69 L178.20,277.47 L180.00,276.68 L181.80,276.98 L183.60,277.46 L185.40,277.95 L187.20,277.23 L189.00,278.14 L190.80,278.28 L192.60,278.40 L194.40,278.78 L196.20,278.62 L198.00,279.33 L199.80,278.91 L201.60,279.48 L203.40,279.10 L205.20,279.53 L207.00,280.93 L208.80,281.38 L210.60,281.79 L212.40,281.36 L214.20,282.45 L216.00,282.58 L217.80,283.29 L219.60,283.31 L221.40,283.72 L223.20,284.01 L225.00,283.96 L226.80,284.20 L228.60,284.06" fill="none" stroke="#ff0000" stroke-width="1.35" stroke-dasharray="1.3 1.3"/>
<path d="M120.60,310.40 L122.40,310.40 L124.20,310.40 L126.00,310.40 L127.80,310.40 L129.60,310.40 L131.40,310.40 L133.20,310.40 L135.00,310.40 L136.80,310.40 L138.60,309.14 L140.40,303.79 L142.20,297.06 L144.00,291.93 L145.80,287.45 L147.60,283.82 L149.40,280.74 L151.20,276.56 L153.00,273.51 L154.80,271.03 L156.60,269.17 L158.40,266.96 L160.20,265.97 L162.00,263.98 L163.80,263.25 L165.60,262.73 L167.40,262.28 L169.20,260.67 L171.00,259.87 L172.80,260.35 L174.60,258.88 L176.40,258.85 L178.20,258.78 L180.00,258.33 L181.80,257.58 L183.60,257.36 L185.40,258.36 L187.20,257.72 L189.00,258.55 L190.80,257.91 L192.60,258.62 L194.40,258.21 L196.20,258.37 L198.00,259.27 L199.80,259.00 L201.60,260.23 L203.40,260.94 L205.20,260.79 L207.00,262.07 L208.80,262.48 L210.60,262.83 L212.40,263.14 L214.20,264.18 L216.00,264.68 L217.80,263.94 L219.60,264.83 L221.40,264.20 L223.20,264.42 L225.00,265.18 L226.80,265.22 L228.60,265.31" fill="none" stroke="#00a651" stroke-width="1.35" stroke-dasharray="1.3 1.3"/>
<path d="M120.60,310.40 L121.05,310.40 L121.50,310.40 L121.95,310.40 L122.40,310.40 L122.85,310.40 L123.30,310.40 L123.75,310.40 L124.20,310.40 L124.65,310.40 L125.10,310.40 L125.55,310.40 L126.00,310.40 L126.45,310.40 L126.90,310.40 L127.35,310.40 L127.80,310.40 L128.25,310.40 L128.70,310.40 L129.15,310.40 L129.60,310.40 L130.05,310.40 L130.50,310.40 L130.95,310.40 L131.40,310.40 L131.85,310.40 L132.30,310.40 L132.75,310.40 L133.20,310.40 L133.65,310.40 L134.10,310.40 L134.55,310.40 L135.00,310.40 L135.45,310.40 L135.90,310.40 L136.35,310.40 L136.80,310.40 L137.25,309.93 L137.70,307.87 L138.15,305.26 L138.60,302.43 L139.05,299.23 L139.50,296.15 L139.95,293.20 L140.40,290.27 L140.85,287.00 L141.30,284.09 L141.75,280.10 L142.20,275.34 L142.65,271.71 L143.10,267.87 L143.55,263.68 L144.00,260.75 L144.45,257.40 L144.90,255.04 L145.35,252.76 L145.80,251.11 L146.25,250.34 L146.70,248.70 L147.15,247.79 L147.60,247.62 L148.05,246.60 L148.50,246.68 L148.95,246.78 L149.40,247.61 L149.85,247.92 L150.30,248.56 L150.75,249.92 L151.20,250.61 L151.65,250.80 L152.10,251.31 L152.55,252.76 L153.00,253.36 L153.45,254.04 L153.90,255.10 L154.35,255.85 L154.80,256.69 L155.25,257.41 L155.70,257.95 L156.15,258.95 L156.60,259.57 L157.05,259.89 L157.50,261.25 L157.95,261.40 L158.40,261.89 L158.85,262.92 L159.30,263.63 L159.75,263.72 L160.20,264.86 L160.65,265.52 L161.10,265.91 L161.55,266.28 L162.00,267.44 L162.45,267.85 L162.90,268.46 L163.35,268.62 L163.80,269.62 L164.25,269.87 L164.70,271.14 L165.15,271.63 L165.60,271.99 L166.05,272.42 L166.50,273.46 L166.95,274.31 L167.40,275.05 L167.85,275.31 L168.30,276.25 L168.75,276.30 L169.20,276.88 L169.65,278.08 L170.10,278.58 L170.55,278.67 L171.00,279.38 L171.45,279.78 L171.90,280.75 L172.35,281.49 L172.80,281.87 L173.25,281.92 L173.70,282.92 L174.15,283.35 L174.60,283.78 L175.05,284.27 L175.50,284.75 L175.95,284.75 L176.40,285.92 L176.85,286.51 L177.30,286.09 L177.75,286.59 L178.20,286.91 L178.65,287.84 L179.10,287.77 L179.55,288.19 L180.00,289.23 L180.45,289.12 L180.90,289.41 L181.35,289.94 L181.80,290.43 L182.25,290.99 L182.70,291.29 L183.15,291.73 L183.60,292.21 L184.05,292.07 L184.50,292.67 L184.95,292.52 L185.40,293.54 L185.85,293.07 L186.30,293.58 L186.75,293.67 L187.20,294.00 L187.65,294.29 L188.10,294.88 L188.55,295.69 L189.00,295.29 L189.45,296.09 L189.90,296.25 L190.35,296.18 L190.80,296.56 L191.25,296.92 L191.70,296.68 L192.15,297.22 L192.60,297.71 L193.05,298.02 L193.50,297.68 L193.95,298.26 L194.40,298.19 L194.85,298.80 L195.30,299.14 L195.75,299.03 L196.20,298.97 L196.65,299.75 L197.10,299.37 L197.55,299.43 L198.00,299.72 L198.45,299.89 L198.90,300.82 L199.35,300.42 L199.80,300.38 L200.25,301.30 L200.70,301.27 L201.15,301.44 L201.60,301.38 L202.05,301.65 L202.50,301.77 L202.95,301.66 L203.40,302.55 L203.85,302.67 L204.30,302.76 L204.75,302.93 L205.20,303.14 L205.65,302.46 L206.10,302.73 L206.55,303.58 L207.00,303.35 L207.45,303.66 L207.90,303.80 L208.35,303.90 L208.80,303.75 L209.25,303.92 L209.70,304.25 L210.15,304.51 L210.60,304.49 L211.05,304.78 L211.50,304.48 L211.95,304.42 L212.40,304.82 L212.85,305.19 L213.30,305.19 L213.75,305.10 L214.20,304.97 L214.65,304.88 L215.10,305.34 L215.55,305.03 L216.00,305.27 L216.45,305.52 L216.90,305.65 L217.35,305.61 L217.80,305.49 L218.25,305.82 L218.70,305.64 L219.15,305.92 L219.60,306.19 L220.05,305.99 L220.50,305.91 L220.95,306.55 L221.40,306.29 L221.85,306.36 L222.30,306.01 L222.75,306.02 L223.20,306.60 L223.65,306.19 L224.10,306.35 L224.55,306.91 L225.00,306.79 L225.45,307.17 L225.90,306.60 L226.35,306.81 L226.80,306.67 L227.25,306.83 L227.70,307.02 L228.15,307.03 L228.60,307.27" fill="none" stroke="#ff0000" stroke-width="1.45"/>
<path d="M120.60,310.40 L121.05,310.40 L121.50,310.40 L121.95,310.40 L122.40,310.40 L122.85,310.40 L123.30,310.40 L123.75,310.40 L124.20,310.40 L124.65,310.40 L125.10,310.40 L125.55,310.40 L126.00,310.40 L126.45,310.40 L126.90,310.40 L127.35,310.40 L127.80,310.40 L128.25,310.40 L128.70,310.40 L129.15,310.40 L129.60,310.40 L130.05,310.40 L130.50,310.40 L130.95,310.40 L131.40,310.40 L131.85,310.40 L132.30,310.40 L132.75,310.40 L133.20,310.40 L133.65,310.40 L134.10,310.40 L134.55,310.40 L135.00,310.40 L135.45,310.40 L135.90,310.40 L136.35,309.30 L136.80,306.98 L137.25,304.31 L137.70,301.29 L138.15,298.10 L138.60,295.02 L139.05,292.60 L139.50,289.49 L139.95,287.18 L140.40,283.68 L140.85,278.42 L141.30,274.27 L141.75,270.42 L142.20,267.02 L142.65,263.06 L143.10,260.30 L143.55,256.83 L144.00,253.36 L144.45,252.67 L144.90,251.06 L145.35,250.56 L145.80,249.97 L146.25,249.59 L146.70,249.73 L147.15,249.42 L147.60,250.18 L148.05,249.69 L148.50,250.24 L148.95,250.47 L149.40,251.55 L149.85,251.54 L150.30,251.98 L150.75,253.43 L151.20,253.85 L151.65,254.32 L152.10,254.78 L152.55,256.03 L153.00,256.82 L153.45,257.49 L153.90,257.88 L154.35,258.49 L154.80,259.55 L155.25,260.29 L155.70,260.96 L156.15,261.69 L156.60,262.29 L157.05,263.26 L157.50,263.52 L157.95,263.73 L158.40,264.88 L158.85,265.21 L159.30,266.38 L159.75,266.52 L160.20,267.08 L160.65,267.78 L161.10,268.55 L161.55,269.20 L162.00,269.68 L162.45,270.07 L162.90,271.39 L163.35,272.07 L163.80,272.10 L164.25,272.59 L164.70,273.61 L165.15,274.34 L165.60,274.75 L166.05,275.91 L166.50,276.50 L166.95,277.22 L167.40,277.52 L167.85,278.42 L168.30,279.14 L168.75,279.35 L169.20,279.72 L169.65,280.93 L170.10,281.13 L170.55,281.96 L171.00,282.10 L171.45,282.87 L171.90,283.67 L172.35,284.20 L172.80,284.86 L173.25,284.90 L173.70,285.44 L174.15,286.08 L174.60,286.34 L175.05,286.80 L175.50,286.80 L175.95,287.79 L176.40,287.42 L176.85,288.30 L177.30,288.60 L177.75,289.12 L178.20,289.19 L178.65,289.60 L179.10,290.24 L179.55,290.70 L180.00,290.86 L180.45,291.11 L180.90,291.90 L181.35,291.96 L181.80,292.12 L182.25,292.93 L182.70,293.50 L183.15,293.85 L183.60,293.75 L184.05,294.12 L184.50,294.20 L184.95,294.63 L185.40,295.52 L185.85,295.89 L186.30,296.15 L186.75,296.53 L187.20,296.37 L187.65,296.53 L188.10,296.80 L188.55,297.69 L189.00,297.42 L189.45,298.22 L189.90,298.40 L190.35,298.39 L190.80,299.25 L191.25,299.51 L191.70,299.08 L192.15,299.83 L192.60,300.01 L193.05,300.04 L193.50,300.18 L193.95,301.02 L194.40,300.94 L194.85,301.06 L195.30,301.23 L195.75,301.69 L196.20,301.54 L196.65,301.39 L197.10,302.10 L197.55,302.14 L198.00,302.71 L198.45,302.74 L198.90,302.55 L199.35,303.22 L199.80,302.66 L200.25,302.79 L200.70,303.69 L201.15,303.05 L201.60,303.72 L202.05,303.49 L202.50,303.64 L202.95,304.20 L203.40,303.98 L203.85,304.12 L204.30,304.11 L204.75,304.73 L205.20,304.39 L205.65,304.32 L206.10,304.70 L206.55,304.93 L207.00,305.43 L207.45,305.19 L207.90,305.42 L208.35,305.18 L208.80,305.32 L209.25,305.52 L209.70,305.97 L210.15,305.63 L210.60,305.74 L211.05,306.24 L211.50,305.68 L211.95,305.98 L212.40,306.56 L212.85,305.89 L213.30,306.70 L213.75,306.61 L214.20,306.33 L214.65,306.53 L215.10,306.64 L215.55,306.63 L216.00,306.89 L216.45,307.10 L216.90,307.30 L217.35,307.47 L217.80,306.95 L218.25,306.98 L218.70,307.25 L219.15,307.14 L219.60,307.56 L220.05,307.72 L220.50,307.68 L220.95,307.30 L221.40,308.14 L221.85,307.78 L222.30,308.09 L222.75,307.68 L223.20,308.13 L223.65,308.22 L224.10,308.23 L224.55,308.17 L225.00,308.03 L225.45,308.49 L225.90,308.10 L226.35,308.85 L226.80,308.78 L227.25,309.01 L227.70,309.07 L228.15,308.53 L228.60,308.65" fill="none" stroke="#00a651" stroke-width="1.45"/>
<circle cx="257.00" cy="226.00" r="3.45" fill="#0066cc"/>
<text x="268.80" y="233.00" font-size="14.2" text-anchor="start" fill="#0066cc" stroke="#0066cc" stroke-width="0.25" style="font-family:'Liberation Serif'" >BA (50ns)</text>
<path d="M254.25 243.15L257.30 237.45L260.35 243.15Z" fill="#ff0000"/>
<text x="268.80" y="246.30" font-size="14.2" text-anchor="start" fill="#ff0000" stroke="#ff0000" stroke-width="0.25" style="font-family:'Liberation Serif'" ><tspan font-style="italic">o</tspan>-TA (50ns)</text>
<rect x="254.30" y="251.70" width="6.00" height="6.00" fill="#00a651"/>
<text x="268.80" y="259.60" font-size="14.2" text-anchor="start" fill="#00a651" stroke="#00a651" stroke-width="0.25" style="font-family:'Liberation Serif'" ><tspan font-style="italic">p</tspan>-TA (50ns)</text>
<circle cx="257.00" cy="267.90" r="2.78" fill="none" stroke="#0066cc" stroke-width="1.35"/>
<text x="268.80" y="273.10" font-size="14.2" text-anchor="start" fill="#0066cc" stroke="#0066cc" stroke-width="0.25" style="font-family:'Liberation Serif'" >BA (400ns)</text>
<path d="M255.06 283.31L257.30 279.09L259.54 283.31Z" fill="none" stroke="#ff0000" stroke-width="1.35" stroke-linejoin="miter"/>
<text x="268.80" y="286.30" font-size="14.2" text-anchor="start" fill="#ff0000" stroke="#ff0000" stroke-width="0.25" style="font-family:'Liberation Serif'" ><tspan font-style="italic">o</tspan>-TA (400ns)</text>
<rect x="254.98" y="292.27" width="4.65" height="4.65" fill="none" stroke="#00a651" stroke-width="1.35"/>
<text x="268.80" y="299.90" font-size="14.2" text-anchor="start" fill="#00a651" stroke="#00a651" stroke-width="0.25" style="font-family:'Liberation Serif'" ><tspan font-style="italic">p</tspan>-TA (400ns)</text>
<text x="294.00" y="315.20" font-size="14.3" text-anchor="middle" fill="#000" stroke="#000" stroke-width="0.25" style="font-family:'Liberation Serif'" >Inset</text>
<text x="295.00" y="326.90" font-size="14.3" text-anchor="middle" fill="#000" stroke="#000" stroke-width="0.25" style="font-family:'Liberation Serif'" >(time profile)</text>
<line x1="246.00" y1="338.60" x2="264.80" y2="338.60" stroke="#ff0000" stroke-width="1.35"/>
<text x="268.40" y="343.40" font-size="14.2" text-anchor="start" fill="#ff0000" stroke="#ff0000" stroke-width="0.25" style="font-family:'Liberation Serif'" ><tspan font-style="italic">o</tspan>-TA (720nm)</text>
<line x1="246.00" y1="350.50" x2="264.80" y2="350.50" stroke="#ff0000" stroke-width="1.3" stroke-dasharray="1.3 1.4"/>
<text x="268.40" y="356.20" font-size="14.2" text-anchor="start" fill="#ff0000" stroke="#ff0000" stroke-width="0.25" style="font-family:'Liberation Serif'" ><tspan font-style="italic">o</tspan>-TA (300nm)</text>
<line x1="246.00" y1="364.30" x2="264.80" y2="364.30" stroke="#00a651" stroke-width="1.35"/>
<text x="268.40" y="369.50" font-size="14.2" text-anchor="start" fill="#00a651" stroke="#00a651" stroke-width="0.25" style="font-family:'Liberation Serif'" ><tspan font-style="italic">p</tspan>-TA (720nm)</text>
<line x1="246.00" y1="376.40" x2="264.80" y2="376.40" stroke="#00a651" stroke-width="1.3" stroke-dasharray="1.3 1.4"/>
<text x="268.40" y="382.40" font-size="14.2" text-anchor="start" fill="#00a651" stroke="#00a651" stroke-width="0.25" style="font-family:'Liberation Serif'" ><tspan font-style="italic">p</tspan>-TA (300nm)</text>
<rect x="48.5" y="448.0" width="192.30" height="151.50" fill="none" stroke="#000" stroke-width="1.3"/>
<line x1="80.55" y1="599.50" x2="80.55" y2="595.30" stroke="#000" stroke-width="1.2"/>
<line x1="112.60" y1="599.50" x2="112.60" y2="595.30" stroke="#000" stroke-width="1.2"/>
<line x1="144.65" y1="599.50" x2="144.65" y2="595.30" stroke="#000" stroke-width="1.2"/>
<line x1="176.70" y1="599.50" x2="176.70" y2="595.30" stroke="#000" stroke-width="1.2"/>
<line x1="208.75" y1="599.50" x2="208.75" y2="595.30" stroke="#000" stroke-width="1.2"/>
<line x1="48.50" y1="574.25" x2="52.70" y2="574.25" stroke="#000" stroke-width="1.2"/>
<line x1="48.50" y1="549.00" x2="52.70" y2="549.00" stroke="#000" stroke-width="1.2"/>
<line x1="48.50" y1="523.75" x2="52.70" y2="523.75" stroke="#000" stroke-width="1.2"/>
<line x1="48.50" y1="498.50" x2="52.70" y2="498.50" stroke="#000" stroke-width="1.2"/>
<line x1="48.50" y1="473.25" x2="52.70" y2="473.25" stroke="#000" stroke-width="1.2"/>
<circle cx="48.50" cy="541.93" r="1.39" fill="none" stroke="#0066cc" stroke-width="0.7"/>
<circle cx="51.70" cy="511.63" r="1.39" fill="none" stroke="#0066cc" stroke-width="0.7"/>
<circle cx="54.91" cy="483.35" r="1.39" fill="none" stroke="#0066cc" stroke-width="0.7"/>
<circle cx="58.12" cy="497.49" r="1.39" fill="none" stroke="#0066cc" stroke-width="0.7"/>
<circle cx="61.32" cy="545.21" r="1.39" fill="none" stroke="#0066cc" stroke-width="0.7"/>
<circle cx="62.92" cy="545.97" r="1.39" fill="none" stroke="#0066cc" stroke-width="0.7"/>
<circle cx="64.53" cy="573.49" r="1.39" fill="none" stroke="#0066cc" stroke-width="0.7"/>
<circle cx="67.73" cy="584.35" r="1.39" fill="none" stroke="#0066cc" stroke-width="0.7"/>
<circle cx="70.94" cy="586.88" r="1.39" fill="none" stroke="#0066cc" stroke-width="0.7"/>
<circle cx="74.14" cy="589.15" r="1.39" fill="none" stroke="#0066cc" stroke-width="0.7"/>
<circle cx="77.34" cy="588.14" r="1.39" fill="none" stroke="#0066cc" stroke-width="0.7"/>
<circle cx="80.55" cy="581.83" r="1.39" fill="none" stroke="#0066cc" stroke-width="0.7"/>
<circle cx="83.75" cy="571.73" r="1.39" fill="none" stroke="#0066cc" stroke-width="0.7"/>
<circle cx="86.96" cy="563.90" r="1.39" fill="none" stroke="#0066cc" stroke-width="0.7"/>
<circle cx="90.16" cy="558.60" r="1.39" fill="none" stroke="#0066cc" stroke-width="0.7"/>
<circle cx="93.37" cy="554.55" r="1.39" fill="none" stroke="#0066cc" stroke-width="0.7"/>
<circle cx="96.58" cy="553.04" r="1.39" fill="none" stroke="#0066cc" stroke-width="0.7"/>
<circle cx="99.78" cy="556.83" r="1.39" fill="none" stroke="#0066cc" stroke-width="0.7"/>
<circle cx="102.99" cy="567.18" r="1.39" fill="none" stroke="#0066cc" stroke-width="0.7"/>
<circle cx="106.19" cy="578.04" r="1.39" fill="none" stroke="#0066cc" stroke-width="0.7"/>
<circle cx="109.40" cy="585.36" r="1.39" fill="none" stroke="#0066cc" stroke-width="0.7"/>
<circle cx="112.60" cy="588.89" r="1.39" fill="none" stroke="#0066cc" stroke-width="0.7"/>
<circle cx="119.01" cy="594.45" r="1.39" fill="none" stroke="#0066cc" stroke-width="0.7"/>
<circle cx="125.42" cy="595.21" r="1.39" fill="none" stroke="#0066cc" stroke-width="0.7"/>
<circle cx="131.83" cy="595.97" r="1.39" fill="none" stroke="#0066cc" stroke-width="0.7"/>
<circle cx="138.24" cy="595.97" r="1.39" fill="none" stroke="#0066cc" stroke-width="0.7"/>
<circle cx="144.65" cy="595.97" r="1.39" fill="none" stroke="#0066cc" stroke-width="0.7"/>
<circle cx="151.06" cy="595.46" r="1.39" fill="none" stroke="#0066cc" stroke-width="0.7"/>
<circle cx="157.47" cy="595.97" r="1.39" fill="none" stroke="#0066cc" stroke-width="0.7"/>
<circle cx="163.88" cy="595.46" r="1.39" fill="none" stroke="#0066cc" stroke-width="0.7"/>
<circle cx="170.29" cy="595.97" r="1.39" fill="none" stroke="#0066cc" stroke-width="0.7"/>
<circle cx="176.70" cy="594.96" r="1.39" fill="none" stroke="#0066cc" stroke-width="0.7"/>
<circle cx="183.11" cy="595.46" r="1.39" fill="none" stroke="#0066cc" stroke-width="0.7"/>
<circle cx="189.52" cy="595.97" r="1.39" fill="none" stroke="#0066cc" stroke-width="0.7"/>
<circle cx="195.93" cy="595.46" r="1.39" fill="none" stroke="#0066cc" stroke-width="0.7"/>
<circle cx="202.34" cy="595.97" r="1.39" fill="none" stroke="#0066cc" stroke-width="0.7"/>
<circle cx="208.75" cy="595.46" r="1.39" fill="none" stroke="#0066cc" stroke-width="0.7"/>
<circle cx="215.16" cy="595.97" r="1.39" fill="none" stroke="#0066cc" stroke-width="0.7"/>
<circle cx="221.57" cy="595.97" r="1.39" fill="none" stroke="#0066cc" stroke-width="0.7"/>
<circle cx="227.98" cy="594.96" r="1.39" fill="none" stroke="#0066cc" stroke-width="0.7"/>
<circle cx="234.39" cy="595.97" r="1.39" fill="none" stroke="#0066cc" stroke-width="0.7"/>
<circle cx="240.80" cy="595.97" r="1.39" fill="none" stroke="#0066cc" stroke-width="0.7"/>
<path d="M47.20 566.86L48.50 564.47L49.80 566.86Z" fill="none" stroke="#ff0000" stroke-width="0.7" stroke-linejoin="miter"/>
<path d="M48.80 562.82L50.10 560.43L51.41 562.82Z" fill="none" stroke="#ff0000" stroke-width="0.7" stroke-linejoin="miter"/>
<path d="M50.40 558.78L51.70 556.39L53.01 558.78Z" fill="none" stroke="#ff0000" stroke-width="0.7" stroke-linejoin="miter"/>
<path d="M52.00 553.22L53.31 550.84L54.61 553.22Z" fill="none" stroke="#ff0000" stroke-width="0.7" stroke-linejoin="miter"/>
<path d="M53.60 555.24L54.91 552.86L56.21 555.24Z" fill="none" stroke="#ff0000" stroke-width="0.7" stroke-linejoin="miter"/>
<path d="M55.21 556.76L56.51 554.38L57.82 556.76Z" fill="none" stroke="#ff0000" stroke-width="0.7" stroke-linejoin="miter"/>
<path d="M56.81 561.81L58.12 559.42L59.42 561.81Z" fill="none" stroke="#ff0000" stroke-width="0.7" stroke-linejoin="miter"/>
<path d="M58.41 570.90L59.72 568.51L61.02 570.90Z" fill="none" stroke="#ff0000" stroke-width="0.7" stroke-linejoin="miter"/>
<path d="M60.02 575.44L61.32 573.06L62.62 575.44Z" fill="none" stroke="#ff0000" stroke-width="0.7" stroke-linejoin="miter"/>
<path d="M61.62 579.23L62.92 576.85L64.23 579.23Z" fill="none" stroke="#ff0000" stroke-width="0.7" stroke-linejoin="miter"/>
<path d="M63.22 587.31L64.53 584.93L65.83 587.31Z" fill="none" stroke="#ff0000" stroke-width="0.7" stroke-linejoin="miter"/>
<path d="M66.42 590.34L67.73 587.96L69.04 590.34Z" fill="none" stroke="#ff0000" stroke-width="0.7" stroke-linejoin="miter"/>
<path d="M69.63 591.85L70.94 589.47L72.24 591.85Z" fill="none" stroke="#ff0000" stroke-width="0.7" stroke-linejoin="miter"/>
<path d="M72.83 591.85L74.14 589.47L75.45 591.85Z" fill="none" stroke="#ff0000" stroke-width="0.7" stroke-linejoin="miter"/>
<path d="M76.04 591.85L77.34 589.47L78.65 591.85Z" fill="none" stroke="#ff0000" stroke-width="0.7" stroke-linejoin="miter"/>
<path d="M79.24 590.34L80.55 587.96L81.86 590.34Z" fill="none" stroke="#ff0000" stroke-width="0.7" stroke-linejoin="miter"/>
<path d="M82.45 588.82L83.75 586.44L85.06 588.82Z" fill="none" stroke="#ff0000" stroke-width="0.7" stroke-linejoin="miter"/>
<path d="M85.66 587.31L86.96 584.93L88.27 587.31Z" fill="none" stroke="#ff0000" stroke-width="0.7" stroke-linejoin="miter"/>
<path d="M88.86 583.27L90.16 580.89L91.47 583.27Z" fill="none" stroke="#ff0000" stroke-width="0.7" stroke-linejoin="miter"/>
<path d="M92.06 581.75L93.37 579.37L94.68 581.75Z" fill="none" stroke="#ff0000" stroke-width="0.7" stroke-linejoin="miter"/>
<path d="M95.27 580.24L96.58 577.86L97.88 580.24Z" fill="none" stroke="#ff0000" stroke-width="0.7" stroke-linejoin="miter"/>
<path d="M98.47 580.24L99.78 577.86L101.09 580.24Z" fill="none" stroke="#ff0000" stroke-width="0.7" stroke-linejoin="miter"/>
<path d="M101.68 581.00L102.99 578.61L104.29 581.00Z" fill="none" stroke="#ff0000" stroke-width="0.7" stroke-linejoin="miter"/>
<path d="M104.88 581.75L106.19 579.37L107.50 581.75Z" fill="none" stroke="#ff0000" stroke-width="0.7" stroke-linejoin="miter"/>
<path d="M108.09 582.26L109.40 579.88L110.70 582.26Z" fill="none" stroke="#ff0000" stroke-width="0.7" stroke-linejoin="miter"/>
<path d="M111.29 582.51L112.60 580.13L113.91 582.51Z" fill="none" stroke="#ff0000" stroke-width="0.7" stroke-linejoin="miter"/>
<path d="M117.70 579.73L119.01 577.35L120.32 579.73Z" fill="none" stroke="#ff0000" stroke-width="0.7" stroke-linejoin="miter"/>
<path d="M124.11 576.45L125.42 574.07L126.73 576.45Z" fill="none" stroke="#ff0000" stroke-width="0.7" stroke-linejoin="miter"/>
<path d="M130.52 571.65L131.83 569.27L133.13 571.65Z" fill="none" stroke="#ff0000" stroke-width="0.7" stroke-linejoin="miter"/>
<path d="M136.94 568.88L138.24 566.49L139.55 568.88Z" fill="none" stroke="#ff0000" stroke-width="0.7" stroke-linejoin="miter"/>
<path d="M143.34 562.82L144.65 560.43L145.96 562.82Z" fill="none" stroke="#ff0000" stroke-width="0.7" stroke-linejoin="miter"/>
<path d="M149.75 559.03L151.06 556.65L152.37 559.03Z" fill="none" stroke="#ff0000" stroke-width="0.7" stroke-linejoin="miter"/>
<path d="M156.17 554.48L157.47 552.10L158.78 554.48Z" fill="none" stroke="#ff0000" stroke-width="0.7" stroke-linejoin="miter"/>
<path d="M162.57 549.94L163.88 547.56L165.19 549.94Z" fill="none" stroke="#ff0000" stroke-width="0.7" stroke-linejoin="miter"/>
<path d="M168.99 547.16L170.29 544.78L171.60 547.16Z" fill="none" stroke="#ff0000" stroke-width="0.7" stroke-linejoin="miter"/>
<path d="M175.39 544.89L176.70 542.51L178.00 544.89Z" fill="none" stroke="#ff0000" stroke-width="0.7" stroke-linejoin="miter"/>
<path d="M181.81 545.90L183.11 543.52L184.42 545.90Z" fill="none" stroke="#ff0000" stroke-width="0.7" stroke-linejoin="miter"/>
<path d="M188.22 545.90L189.52 543.52L190.83 545.90Z" fill="none" stroke="#ff0000" stroke-width="0.7" stroke-linejoin="miter"/>
<path d="M194.62 546.91L195.93 544.53L197.24 546.91Z" fill="none" stroke="#ff0000" stroke-width="0.7" stroke-linejoin="miter"/>
<path d="M201.03 549.18L202.34 546.80L203.65 549.18Z" fill="none" stroke="#ff0000" stroke-width="0.7" stroke-linejoin="miter"/>
<path d="M207.44 552.72L208.75 550.33L210.06 552.72Z" fill="none" stroke="#ff0000" stroke-width="0.7" stroke-linejoin="miter"/>
<path d="M213.85 557.77L215.16 555.38L216.47 557.77Z" fill="none" stroke="#ff0000" stroke-width="0.7" stroke-linejoin="miter"/>
<path d="M220.26 562.31L221.57 559.93L222.88 562.31Z" fill="none" stroke="#ff0000" stroke-width="0.7" stroke-linejoin="miter"/>
<path d="M226.67 566.35L227.98 563.97L229.28 566.35Z" fill="none" stroke="#ff0000" stroke-width="0.7" stroke-linejoin="miter"/>
<path d="M233.08 570.90L234.39 568.51L235.69 570.90Z" fill="none" stroke="#ff0000" stroke-width="0.7" stroke-linejoin="miter"/>
<path d="M239.50 573.17L240.80 570.79L242.11 573.17Z" fill="none" stroke="#ff0000" stroke-width="0.7" stroke-linejoin="miter"/>
<rect x="47.42" y="515.10" width="2.15" height="2.15" fill="none" stroke="#00a651" stroke-width="0.7"/>
<rect x="49.03" y="506.51" width="2.15" height="2.15" fill="none" stroke="#00a651" stroke-width="0.7"/>
<rect x="50.63" y="494.90" width="2.15" height="2.15" fill="none" stroke="#00a651" stroke-width="0.7"/>
<rect x="52.23" y="482.78" width="2.15" height="2.15" fill="none" stroke="#00a651" stroke-width="0.7"/>
<rect x="53.83" y="466.37" width="2.15" height="2.15" fill="none" stroke="#00a651" stroke-width="0.7"/>
<rect x="55.44" y="472.18" width="2.15" height="2.15" fill="none" stroke="#00a651" stroke-width="0.7"/>
<rect x="57.04" y="492.63" width="2.15" height="2.15" fill="none" stroke="#00a651" stroke-width="0.7"/>
<rect x="58.64" y="516.36" width="2.15" height="2.15" fill="none" stroke="#00a651" stroke-width="0.7"/>
<rect x="60.24" y="538.58" width="2.15" height="2.15" fill="none" stroke="#00a651" stroke-width="0.7"/>
<rect x="61.85" y="552.72" width="2.15" height="2.15" fill="none" stroke="#00a651" stroke-width="0.7"/>
<rect x="63.45" y="563.83" width="2.15" height="2.15" fill="none" stroke="#00a651" stroke-width="0.7"/>
<rect x="66.66" y="573.17" width="2.15" height="2.15" fill="none" stroke="#00a651" stroke-width="0.7"/>
<rect x="68.26" y="577.97" width="2.15" height="2.15" fill="none" stroke="#00a651" stroke-width="0.7"/>
<rect x="69.86" y="586.56" width="2.15" height="2.15" fill="none" stroke="#00a651" stroke-width="0.7"/>
<rect x="73.06" y="587.06" width="2.15" height="2.15" fill="none" stroke="#00a651" stroke-width="0.7"/>
<rect x="76.27" y="588.07" width="2.15" height="2.15" fill="none" stroke="#00a651" stroke-width="0.7"/>
<rect x="79.47" y="588.07" width="2.15" height="2.15" fill="none" stroke="#00a651" stroke-width="0.7"/>
<rect x="82.68" y="582.52" width="2.15" height="2.15" fill="none" stroke="#00a651" stroke-width="0.7"/>
<rect x="85.89" y="578.22" width="2.15" height="2.15" fill="none" stroke="#00a651" stroke-width="0.7"/>
<rect x="89.09" y="573.17" width="2.15" height="2.15" fill="none" stroke="#00a651" stroke-width="0.7"/>
<rect x="92.30" y="568.12" width="2.15" height="2.15" fill="none" stroke="#00a651" stroke-width="0.7"/>
<rect x="95.50" y="564.34" width="2.15" height="2.15" fill="none" stroke="#00a651" stroke-width="0.7"/>
<rect x="98.70" y="561.81" width="2.15" height="2.15" fill="none" stroke="#00a651" stroke-width="0.7"/>
<rect x="101.91" y="560.55" width="2.15" height="2.15" fill="none" stroke="#00a651" stroke-width="0.7"/>
<rect x="105.11" y="565.35" width="2.15" height="2.15" fill="none" stroke="#00a651" stroke-width="0.7"/>
<rect x="108.32" y="570.14" width="2.15" height="2.15" fill="none" stroke="#00a651" stroke-width="0.7"/>
<rect x="111.52" y="572.42" width="2.15" height="2.15" fill="none" stroke="#00a651" stroke-width="0.7"/>
<rect x="117.94" y="584.28" width="2.15" height="2.15" fill="none" stroke="#00a651" stroke-width="0.7"/>
<rect x="124.34" y="590.09" width="2.15" height="2.15" fill="none" stroke="#00a651" stroke-width="0.7"/>
<rect x="130.75" y="593.38" width="2.15" height="2.15" fill="none" stroke="#00a651" stroke-width="0.7"/>
<rect x="137.17" y="593.88" width="2.15" height="2.15" fill="none" stroke="#00a651" stroke-width="0.7"/>
<rect x="143.58" y="594.38" width="2.15" height="2.15" fill="none" stroke="#00a651" stroke-width="0.7"/>
<rect x="149.99" y="594.38" width="2.15" height="2.15" fill="none" stroke="#00a651" stroke-width="0.7"/>
<rect x="156.40" y="594.38" width="2.15" height="2.15" fill="none" stroke="#00a651" stroke-width="0.7"/>
<rect x="162.81" y="593.88" width="2.15" height="2.15" fill="none" stroke="#00a651" stroke-width="0.7"/>
<rect x="169.22" y="594.38" width="2.15" height="2.15" fill="none" stroke="#00a651" stroke-width="0.7"/>
<rect x="175.62" y="593.88" width="2.15" height="2.15" fill="none" stroke="#00a651" stroke-width="0.7"/>
<rect x="182.04" y="594.38" width="2.15" height="2.15" fill="none" stroke="#00a651" stroke-width="0.7"/>
<rect x="188.45" y="593.88" width="2.15" height="2.15" fill="none" stroke="#00a651" stroke-width="0.7"/>
<rect x="194.86" y="594.38" width="2.15" height="2.15" fill="none" stroke="#00a651" stroke-width="0.7"/>
<rect x="201.27" y="594.38" width="2.15" height="2.15" fill="none" stroke="#00a651" stroke-width="0.7"/>
<rect x="207.68" y="594.89" width="2.15" height="2.15" fill="none" stroke="#00a651" stroke-width="0.7"/>
<rect x="214.09" y="594.38" width="2.15" height="2.15" fill="none" stroke="#00a651" stroke-width="0.7"/>
<rect x="220.50" y="594.38" width="2.15" height="2.15" fill="none" stroke="#00a651" stroke-width="0.7"/>
<rect x="226.91" y="594.38" width="2.15" height="2.15" fill="none" stroke="#00a651" stroke-width="0.7"/>
<rect x="233.31" y="594.38" width="2.15" height="2.15" fill="none" stroke="#00a651" stroke-width="0.7"/>
<rect x="239.73" y="594.38" width="2.15" height="2.15" fill="none" stroke="#00a651" stroke-width="0.7"/>
<circle cx="48.50" cy="562.89" r="1.74" fill="#0066cc"/>
<circle cx="50.10" cy="551.52" r="1.74" fill="#0066cc"/>
<circle cx="51.70" cy="547.99" r="1.74" fill="#0066cc"/>
<circle cx="53.31" cy="541.42" r="1.74" fill="#0066cc"/>
<circle cx="54.91" cy="534.86" r="1.74" fill="#0066cc"/>
<circle cx="56.51" cy="536.38" r="1.74" fill="#0066cc"/>
<circle cx="58.12" cy="538.90" r="1.74" fill="#0066cc"/>
<circle cx="59.72" cy="551.52" r="1.74" fill="#0066cc"/>
<circle cx="61.32" cy="562.63" r="1.74" fill="#0066cc"/>
<circle cx="62.92" cy="562.38" r="1.74" fill="#0066cc"/>
<circle cx="64.53" cy="575.51" r="1.74" fill="#0066cc"/>
<circle cx="67.73" cy="584.35" r="1.74" fill="#0066cc"/>
<circle cx="70.94" cy="588.39" r="1.74" fill="#0066cc"/>
<circle cx="74.14" cy="588.14" r="1.74" fill="#0066cc"/>
<circle cx="77.34" cy="586.12" r="1.74" fill="#0066cc"/>
<circle cx="80.55" cy="579.80" r="1.74" fill="#0066cc"/>
<circle cx="83.75" cy="573.49" r="1.74" fill="#0066cc"/>
<circle cx="86.96" cy="568.70" r="1.74" fill="#0066cc"/>
<circle cx="90.16" cy="565.16" r="1.74" fill="#0066cc"/>
<circle cx="93.37" cy="561.62" r="1.74" fill="#0066cc"/>
<circle cx="96.58" cy="557.59" r="1.74" fill="#0066cc"/>
<circle cx="99.78" cy="560.11" r="1.74" fill="#0066cc"/>
<circle cx="102.99" cy="562.38" r="1.74" fill="#0066cc"/>
<circle cx="106.19" cy="564.91" r="1.74" fill="#0066cc"/>
<circle cx="109.40" cy="565.66" r="1.74" fill="#0066cc"/>
<circle cx="112.60" cy="565.41" r="1.74" fill="#0066cc"/>
<circle cx="119.01" cy="561.37" r="1.74" fill="#0066cc"/>
<circle cx="125.42" cy="555.06" r="1.74" fill="#0066cc"/>
<circle cx="131.83" cy="544.46" r="1.74" fill="#0066cc"/>
<circle cx="138.24" cy="537.38" r="1.74" fill="#0066cc"/>
<circle cx="144.65" cy="528.80" r="1.74" fill="#0066cc"/>
<circle cx="151.06" cy="518.70" r="1.74" fill="#0066cc"/>
<circle cx="157.47" cy="516.17" r="1.74" fill="#0066cc"/>
<circle cx="163.88" cy="513.90" r="1.74" fill="#0066cc"/>
<circle cx="170.29" cy="506.07" r="1.74" fill="#0066cc"/>
<circle cx="176.70" cy="500.77" r="1.74" fill="#0066cc"/>
<circle cx="183.11" cy="504.31" r="1.74" fill="#0066cc"/>
<circle cx="189.52" cy="504.56" r="1.74" fill="#0066cc"/>
<circle cx="195.93" cy="504.31" r="1.74" fill="#0066cc"/>
<circle cx="202.34" cy="511.12" r="1.74" fill="#0066cc"/>
<circle cx="208.75" cy="517.94" r="1.74" fill="#0066cc"/>
<circle cx="215.16" cy="522.49" r="1.74" fill="#0066cc"/>
<circle cx="221.57" cy="529.81" r="1.74" fill="#0066cc"/>
<circle cx="227.98" cy="535.62" r="1.74" fill="#0066cc"/>
<circle cx="234.39" cy="542.94" r="1.74" fill="#0066cc"/>
<circle cx="240.80" cy="547.74" r="1.74" fill="#0066cc"/>
<path d="M46.77 581.13L48.50 577.98L50.23 581.13Z" fill="#ff0000"/>
<path d="M48.38 574.31L50.10 571.16L51.83 574.31Z" fill="#ff0000"/>
<path d="M49.98 573.30L51.70 570.15L53.43 573.30Z" fill="#ff0000"/>
<path d="M51.58 572.04L53.31 568.89L55.03 572.04Z" fill="#ff0000"/>
<path d="M53.18 574.31L54.91 571.16L56.63 574.31Z" fill="#ff0000"/>
<path d="M54.79 575.57L56.51 572.42L58.24 575.57Z" fill="#ff0000"/>
<path d="M56.39 577.59L58.12 574.44L59.84 577.59Z" fill="#ff0000"/>
<path d="M57.99 579.61L59.72 576.46L61.44 579.61Z" fill="#ff0000"/>
<path d="M59.59 581.13L61.32 577.98L63.05 581.13Z" fill="#ff0000"/>
<path d="M61.20 583.65L62.92 580.50L64.65 583.65Z" fill="#ff0000"/>
<path d="M62.80 584.41L64.53 581.26L66.25 584.41Z" fill="#ff0000"/>
<path d="M66.01 587.19L67.73 584.04L69.45 587.19Z" fill="#ff0000"/>
<path d="M69.21 587.69L70.94 584.54L72.66 587.69Z" fill="#ff0000"/>
<path d="M72.42 587.19L74.14 584.04L75.86 587.19Z" fill="#ff0000"/>
<path d="M75.62 584.41L77.34 581.26L79.07 584.41Z" fill="#ff0000"/>
<path d="M78.83 583.65L80.55 580.50L82.27 583.65Z" fill="#ff0000"/>
<path d="M82.03 579.61L83.75 576.46L85.48 579.61Z" fill="#ff0000"/>
<path d="M85.24 579.11L86.96 575.96L88.69 579.11Z" fill="#ff0000"/>
<path d="M88.44 575.07L90.16 571.92L91.89 575.07Z" fill="#ff0000"/>
<path d="M91.65 573.30L93.37 570.15L95.09 573.30Z" fill="#ff0000"/>
<path d="M94.85 570.27L96.58 567.12L98.30 570.27Z" fill="#ff0000"/>
<path d="M98.06 570.27L99.78 567.12L101.50 570.27Z" fill="#ff0000"/>
<path d="M101.26 566.48L102.99 563.33L104.71 566.48Z" fill="#ff0000"/>
<path d="M104.47 563.96L106.19 560.81L107.91 563.96Z" fill="#ff0000"/>
<path d="M107.67 558.40L109.40 555.25L111.12 558.40Z" fill="#ff0000"/>
<path d="M110.88 557.65L112.60 554.50L114.32 557.65Z" fill="#ff0000"/>
<path d="M117.29 550.83L119.01 547.68L120.73 550.83Z" fill="#ff0000"/>
<path d="M123.70 540.98L125.42 537.83L127.14 540.98Z" fill="#ff0000"/>
<path d="M130.10 527.60L131.83 524.45L133.55 527.60Z" fill="#ff0000"/>
<path d="M136.52 518.51L138.24 515.36L139.97 518.51Z" fill="#ff0000"/>
<path d="M142.93 504.62L144.65 501.47L146.38 504.62Z" fill="#ff0000"/>
<path d="M149.34 495.02L151.06 491.88L152.78 495.02Z" fill="#ff0000"/>
<path d="M155.75 486.19L157.47 483.04L159.20 486.19Z" fill="#ff0000"/>
<path d="M162.16 472.81L163.88 469.66L165.60 472.81Z" fill="#ff0000"/>
<path d="M168.57 468.76L170.29 465.61L172.02 468.76Z" fill="#ff0000"/>
<path d="M174.97 461.95L176.70 458.80L178.42 461.95Z" fill="#ff0000"/>
<path d="M181.39 468.01L183.11 464.86L184.84 468.01Z" fill="#ff0000"/>
<path d="M187.80 467.50L189.52 464.35L191.25 467.50Z" fill="#ff0000"/>
<path d="M194.21 469.02L195.93 465.87L197.66 469.02Z" fill="#ff0000"/>
<path d="M200.62 478.87L202.34 475.72L204.06 478.87Z" fill="#ff0000"/>
<path d="M207.03 483.66L208.75 480.51L210.47 483.66Z" fill="#ff0000"/>
<path d="M213.44 494.52L215.16 491.37L216.88 494.52Z" fill="#ff0000"/>
<path d="M219.84 502.85L221.57 499.70L223.29 502.85Z" fill="#ff0000"/>
<path d="M226.25 511.69L227.98 508.54L229.70 511.69Z" fill="#ff0000"/>
<path d="M232.66 524.57L234.39 521.42L236.11 524.57Z" fill="#ff0000"/>
<path d="M239.08 531.64L240.80 528.49L242.53 531.64Z" fill="#ff0000"/>
<rect x="47.08" y="528.64" width="2.85" height="2.85" fill="#00a651"/>
<rect x="48.68" y="547.83" width="2.85" height="2.85" fill="#00a651"/>
<rect x="50.28" y="537.98" width="2.85" height="2.85" fill="#00a651"/>
<rect x="51.88" y="522.83" width="2.85" height="2.85" fill="#00a651"/>
<rect x="53.48" y="520.05" width="2.85" height="2.85" fill="#00a651"/>
<rect x="55.09" y="522.83" width="2.85" height="2.85" fill="#00a651"/>
<rect x="56.69" y="532.43" width="2.85" height="2.85" fill="#00a651"/>
<rect x="58.29" y="545.81" width="2.85" height="2.85" fill="#00a651"/>
<rect x="59.90" y="556.67" width="2.85" height="2.85" fill="#00a651"/>
<rect x="61.50" y="556.16" width="2.85" height="2.85" fill="#00a651"/>
<rect x="63.10" y="572.83" width="2.85" height="2.85" fill="#00a651"/>
<rect x="66.31" y="579.14" width="2.85" height="2.85" fill="#00a651"/>
<rect x="69.51" y="581.41" width="2.85" height="2.85" fill="#00a651"/>
<rect x="72.72" y="583.94" width="2.85" height="2.85" fill="#00a651"/>
<rect x="75.92" y="580.65" width="2.85" height="2.85" fill="#00a651"/>
<rect x="79.12" y="580.40" width="2.85" height="2.85" fill="#00a651"/>
<rect x="82.33" y="577.62" width="2.85" height="2.85" fill="#00a651"/>
<rect x="85.54" y="570.30" width="2.85" height="2.85" fill="#00a651"/>
<rect x="88.74" y="568.79" width="2.85" height="2.85" fill="#00a651"/>
<rect x="91.95" y="565.75" width="2.85" height="2.85" fill="#00a651"/>
<rect x="95.15" y="561.72" width="2.85" height="2.85" fill="#00a651"/>
<rect x="98.36" y="558.69" width="2.85" height="2.85" fill="#00a651"/>
<rect x="101.56" y="557.93" width="2.85" height="2.85" fill="#00a651"/>
<rect x="104.77" y="557.17" width="2.85" height="2.85" fill="#00a651"/>
<rect x="107.97" y="557.93" width="2.85" height="2.85" fill="#00a651"/>
<rect x="111.17" y="553.63" width="2.85" height="2.85" fill="#00a651"/>
<rect x="117.59" y="558.18" width="2.85" height="2.85" fill="#00a651"/>
<rect x="124.00" y="553.63" width="2.85" height="2.85" fill="#00a651"/>
<rect x="130.40" y="546.06" width="2.85" height="2.85" fill="#00a651"/>
<rect x="136.81" y="542.27" width="2.85" height="2.85" fill="#00a651"/>
<rect x="143.22" y="532.43" width="2.85" height="2.85" fill="#00a651"/>
<rect x="149.63" y="522.33" width="2.85" height="2.85" fill="#00a651"/>
<rect x="156.05" y="516.52" width="2.85" height="2.85" fill="#00a651"/>
<rect x="162.45" y="511.47" width="2.85" height="2.85" fill="#00a651"/>
<rect x="168.87" y="507.18" width="2.85" height="2.85" fill="#00a651"/>
<rect x="175.27" y="505.15" width="2.85" height="2.85" fill="#00a651"/>
<rect x="181.69" y="502.38" width="2.85" height="2.85" fill="#00a651"/>
<rect x="188.09" y="503.39" width="2.85" height="2.85" fill="#00a651"/>
<rect x="194.50" y="512.48" width="2.85" height="2.85" fill="#00a651"/>
<rect x="200.91" y="514.25" width="2.85" height="2.85" fill="#00a651"/>
<rect x="207.32" y="522.33" width="2.85" height="2.85" fill="#00a651"/>
<rect x="213.73" y="529.65" width="2.85" height="2.85" fill="#00a651"/>
<rect x="220.14" y="532.43" width="2.85" height="2.85" fill="#00a651"/>
<rect x="226.55" y="537.98" width="2.85" height="2.85" fill="#00a651"/>
<rect x="232.96" y="544.04" width="2.85" height="2.85" fill="#00a651"/>
<rect x="239.38" y="552.37" width="2.85" height="2.85" fill="#00a651"/>
<text x="37.80" y="604.10" font-size="13.7" text-anchor="end" fill="#000" stroke="#000" stroke-width="0.25" style="font-family:'Liberation Serif'" >0</text>
<text x="37.80" y="578.85" font-size="13.7" text-anchor="end" fill="#000" stroke="#000" stroke-width="0.25" style="font-family:'Liberation Serif'" >0.1</text>
<text x="37.80" y="553.60" font-size="13.7" text-anchor="end" fill="#000" stroke="#000" stroke-width="0.25" style="font-family:'Liberation Serif'" >0.2</text>
<text x="37.80" y="528.35" font-size="13.7" text-anchor="end" fill="#000" stroke="#000" stroke-width="0.25" style="font-family:'Liberation Serif'" >0.3</text>
<text x="37.80" y="503.10" font-size="13.7" text-anchor="end" fill="#000" stroke="#000" stroke-width="0.25" style="font-family:'Liberation Serif'" >0.4</text>
<text x="37.80" y="477.85" font-size="13.7" text-anchor="end" fill="#000" stroke="#000" stroke-width="0.25" style="font-family:'Liberation Serif'" >0.5</text>
<text x="37.80" y="452.60" font-size="13.7" text-anchor="end" fill="#000" stroke="#000" stroke-width="0.25" style="font-family:'Liberation Serif'" >0.6</text>
<text x="48.50" y="619.80" font-size="13.7" text-anchor="middle" fill="#000" stroke="#000" stroke-width="0.25" style="font-family:'Liberation Serif'" >300</text>
<text x="80.55" y="619.80" font-size="13.7" text-anchor="middle" fill="#000" stroke="#000" stroke-width="0.25" style="font-family:'Liberation Serif'" >400</text>
<text x="112.60" y="619.80" font-size="13.7" text-anchor="middle" fill="#000" stroke="#000" stroke-width="0.25" style="font-family:'Liberation Serif'" >500</text>
<text x="144.65" y="619.80" font-size="13.7" text-anchor="middle" fill="#000" stroke="#000" stroke-width="0.25" style="font-family:'Liberation Serif'" >600</text>
<text x="176.70" y="619.80" font-size="13.7" text-anchor="middle" fill="#000" stroke="#000" stroke-width="0.25" style="font-family:'Liberation Serif'" >700</text>
<text x="208.75" y="619.80" font-size="13.7" text-anchor="middle" fill="#000" stroke="#000" stroke-width="0.25" style="font-family:'Liberation Serif'" >800</text>
<text x="240.80" y="619.80" font-size="13.7" text-anchor="middle" fill="#000" stroke="#000" stroke-width="0.25" style="font-family:'Liberation Serif'" >900</text>
<g transform="translate(10.50 524.20) rotate(-90) scale(1 1.08)"><text x="0" y="0" font-size="14.3" text-anchor="middle" fill="#000" stroke="#000" stroke-width="0.25" style="font-family:'Liberation Serif'">Absorbance</text></g>
<g transform="translate(148.50 638.30) rotate(0) scale(1 1.08)"><text x="0" y="0" font-size="14.3" text-anchor="middle" fill="#000" stroke="#000" stroke-width="0.25" style="font-family:'Liberation Serif'">Wavelength (nm)</text></g>
<text x="136.50" y="656.30" font-size="11.8" text-anchor="middle" fill="#000" style="font-family:'Liberation Sans'" >(c)</text>
<circle cx="256.50" cy="461.60" r="3.45" fill="#0066cc"/>
<text x="268.40" y="467.40" font-size="14.2" text-anchor="start" fill="#0066cc" stroke="#0066cc" stroke-width="0.25" style="font-family:'Liberation Serif'" >BA (50ns)</text>
<path d="M253.75 478.15L256.80 472.45L259.85 478.15Z" fill="#ff0000"/>
<text x="268.40" y="480.60" font-size="14.2" text-anchor="start" fill="#ff0000" stroke="#ff0000" stroke-width="0.25" style="font-family:'Liberation Serif'" ><tspan font-style="italic">o</tspan>-TA (50ns)</text>
<rect x="253.80" y="485.80" width="6.00" height="6.00" fill="#00a651"/>
<text x="268.40" y="494.30" font-size="14.2" text-anchor="start" fill="#00a651" stroke="#00a651" stroke-width="0.25" style="font-family:'Liberation Serif'" ><tspan font-style="italic">p</tspan>-TA (50ns)</text>
<circle cx="256.50" cy="502.30" r="2.78" fill="none" stroke="#0066cc" stroke-width="1.35"/>
<text x="268.40" y="507.40" font-size="14.2" text-anchor="start" fill="#0066cc" stroke="#0066cc" stroke-width="0.25" style="font-family:'Liberation Serif'" >BA (400ns)</text>
<path d="M254.56 517.11L256.80 512.89L259.04 517.11Z" fill="none" stroke="#ff0000" stroke-width="1.35" stroke-linejoin="miter"/>
<text x="268.40" y="520.60" font-size="14.2" text-anchor="start" fill="#ff0000" stroke="#ff0000" stroke-width="0.25" style="font-family:'Liberation Serif'" ><tspan font-style="italic">o</tspan>-TA (400ns)</text>
<rect x="254.48" y="526.27" width="4.65" height="4.65" fill="none" stroke="#00a651" stroke-width="1.35"/>
<text x="268.40" y="533.80" font-size="14.2" text-anchor="start" fill="#00a651" stroke="#00a651" stroke-width="0.25" style="font-family:'Liberation Serif'" ><tspan font-style="italic">p</tspan>-TA (400ns)</text>
</svg></body></html>
